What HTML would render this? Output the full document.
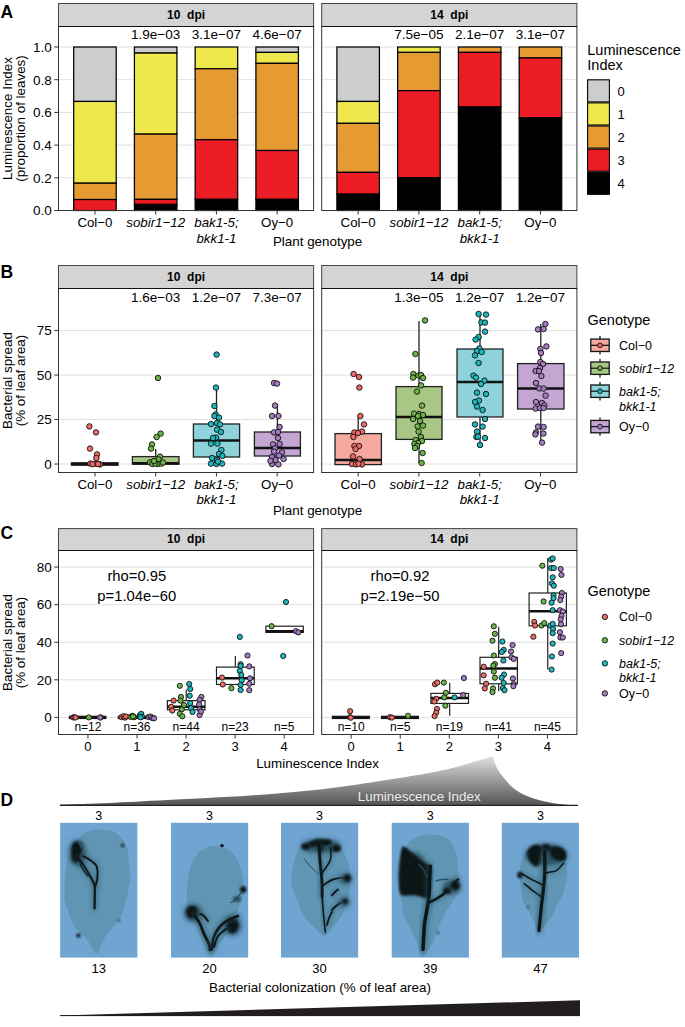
<!DOCTYPE html>
<html><head><meta charset="utf-8"><style>
html,body{margin:0;padding:0;background:#fff;}
svg{display:block;}
svg text{font-family:"Liberation Sans", sans-serif;}
</style></head><body>
<svg width="685" height="1027" viewBox="0 0 685 1027">
<rect width="685" height="1027" fill="#fff"/>
<text x="0.60" y="18.40" font-size="17.5" text-anchor="start" font-weight="bold" font-style="normal" fill="#000" >A</text>
<rect x="58.5" y="26.5" width="255.10000000000002" height="184.0" fill="#fff"/>
<line x1="58.5" y1="177.80" x2="313.6" y2="177.80" stroke="#e1e1e1" stroke-width="1"/>
<line x1="58.5" y1="145.10" x2="313.6" y2="145.10" stroke="#e1e1e1" stroke-width="1"/>
<line x1="58.5" y1="112.40" x2="313.6" y2="112.40" stroke="#e1e1e1" stroke-width="1"/>
<line x1="58.5" y1="79.70" x2="313.6" y2="79.70" stroke="#e1e1e1" stroke-width="1"/>
<line x1="58.5" y1="47.00" x2="313.6" y2="47.00" stroke="#e1e1e1" stroke-width="1"/>
<rect x="73.68" y="47.00" width="42.52" height="54.45" fill="#cdcdcd" stroke="#000" stroke-width="1.25"/>
<rect x="73.68" y="101.45" width="42.52" height="81.75" fill="#efe84d" stroke="#000" stroke-width="1.25"/>
<rect x="73.68" y="183.20" width="42.52" height="16.35" fill="#e69b32" stroke="#000" stroke-width="1.25"/>
<rect x="73.68" y="199.55" width="42.52" height="10.95" fill="#ec1c24" stroke="#000" stroke-width="1.25"/>
<rect x="134.42" y="47.00" width="42.52" height="6.05" fill="#cdcdcd" stroke="#000" stroke-width="1.25"/>
<rect x="134.42" y="53.05" width="42.52" height="81.10" fill="#efe84d" stroke="#000" stroke-width="1.25"/>
<rect x="134.42" y="134.15" width="42.52" height="65.24" fill="#e69b32" stroke="#000" stroke-width="1.25"/>
<rect x="134.42" y="199.38" width="42.52" height="5.07" fill="#ec1c24" stroke="#000" stroke-width="1.25"/>
<rect x="134.42" y="204.45" width="42.52" height="6.05" fill="#000000" stroke="#000" stroke-width="1.25"/>
<text x="155.68" y="38.70" font-size="13.5" text-anchor="middle" font-weight="normal" font-style="normal" fill="#000" >1.9e−03</text>
<rect x="195.16" y="47.00" width="42.52" height="21.75" fill="#efe84d" stroke="#000" stroke-width="1.25"/>
<rect x="195.16" y="68.75" width="42.52" height="70.96" fill="#e69b32" stroke="#000" stroke-width="1.25"/>
<rect x="195.16" y="139.70" width="42.52" height="59.68" fill="#ec1c24" stroke="#000" stroke-width="1.25"/>
<rect x="195.16" y="199.38" width="42.52" height="11.12" fill="#000000" stroke="#000" stroke-width="1.25"/>
<text x="216.42" y="38.70" font-size="13.5" text-anchor="middle" font-weight="normal" font-style="normal" fill="#000" >3.1e−07</text>
<rect x="255.90" y="47.00" width="42.52" height="5.40" fill="#cdcdcd" stroke="#000" stroke-width="1.25"/>
<rect x="255.90" y="52.40" width="42.52" height="10.95" fill="#efe84d" stroke="#000" stroke-width="1.25"/>
<rect x="255.90" y="63.35" width="42.52" height="87.15" fill="#e69b32" stroke="#000" stroke-width="1.25"/>
<rect x="255.90" y="150.50" width="42.52" height="48.89" fill="#ec1c24" stroke="#000" stroke-width="1.25"/>
<rect x="255.90" y="199.38" width="42.52" height="11.12" fill="#000000" stroke="#000" stroke-width="1.25"/>
<text x="277.16" y="38.70" font-size="13.5" text-anchor="middle" font-weight="normal" font-style="normal" fill="#000" >4.6e−07</text>
<rect x="58.5" y="26.5" width="255.10" height="184.00" fill="none" stroke="#333333" stroke-width="1"/>
<rect x="58.5" y="3.5" width="255.10" height="23.00" fill="#d4d4d4" stroke="#444" stroke-width="1"/>
<line x1="58.5" y1="26.50" x2="313.6" y2="26.50" stroke="#111" stroke-width="1.15"/>
<text x="186.05" y="18.90" font-size="12" text-anchor="middle" font-weight="bold" font-style="normal" fill="#000" xml:space="preserve">10  dpi</text>
<line x1="94.94" y1="210.5" x2="94.94" y2="214.5" stroke="#333333" stroke-width="1"/>
<line x1="155.68" y1="210.5" x2="155.68" y2="214.5" stroke="#333333" stroke-width="1"/>
<line x1="216.42" y1="210.5" x2="216.42" y2="214.5" stroke="#333333" stroke-width="1"/>
<line x1="277.16" y1="210.5" x2="277.16" y2="214.5" stroke="#333333" stroke-width="1"/>
<text x="94.94" y="227.00" font-size="13.3" text-anchor="middle" font-weight="normal" font-style="normal" fill="#000" >Col−0</text>
<text x="155.68" y="227.00" font-size="13.3" text-anchor="middle" font-weight="normal" font-style="italic" fill="#000" >sobir1−12</text>
<text x="216.42" y="227.00" font-size="13.3" text-anchor="middle" font-weight="normal" font-style="italic" fill="#000" >bak1-5;</text>
<text x="216.42" y="242.50" font-size="13.3" text-anchor="middle" font-weight="normal" font-style="italic" fill="#000" >bkk1-1</text>
<text x="277.16" y="227.00" font-size="13.3" text-anchor="middle" font-weight="normal" font-style="normal" fill="#000" >Oy−0</text>
<rect x="321.7" y="26.5" width="255.2" height="184.0" fill="#fff"/>
<line x1="321.7" y1="177.80" x2="576.9" y2="177.80" stroke="#e1e1e1" stroke-width="1"/>
<line x1="321.7" y1="145.10" x2="576.9" y2="145.10" stroke="#e1e1e1" stroke-width="1"/>
<line x1="321.7" y1="112.40" x2="576.9" y2="112.40" stroke="#e1e1e1" stroke-width="1"/>
<line x1="321.7" y1="79.70" x2="576.9" y2="79.70" stroke="#e1e1e1" stroke-width="1"/>
<line x1="321.7" y1="47.00" x2="576.9" y2="47.00" stroke="#e1e1e1" stroke-width="1"/>
<rect x="336.89" y="47.00" width="42.53" height="54.45" fill="#cdcdcd" stroke="#000" stroke-width="1.25"/>
<rect x="336.89" y="101.45" width="42.53" height="21.91" fill="#efe84d" stroke="#000" stroke-width="1.25"/>
<rect x="336.89" y="123.35" width="42.53" height="49.05" fill="#e69b32" stroke="#000" stroke-width="1.25"/>
<rect x="336.89" y="172.40" width="42.53" height="21.75" fill="#ec1c24" stroke="#000" stroke-width="1.25"/>
<rect x="336.89" y="194.15" width="42.53" height="16.35" fill="#000000" stroke="#000" stroke-width="1.25"/>
<rect x="397.65" y="47.00" width="42.53" height="5.40" fill="#efe84d" stroke="#000" stroke-width="1.25"/>
<rect x="397.65" y="52.40" width="42.53" height="38.26" fill="#e69b32" stroke="#000" stroke-width="1.25"/>
<rect x="397.65" y="90.65" width="42.53" height="87.15" fill="#ec1c24" stroke="#000" stroke-width="1.25"/>
<rect x="397.65" y="177.80" width="42.53" height="32.70" fill="#000000" stroke="#000" stroke-width="1.25"/>
<text x="418.92" y="38.70" font-size="13.5" text-anchor="middle" font-weight="normal" font-style="normal" fill="#000" >7.5e−05</text>
<rect x="458.41" y="47.00" width="42.53" height="5.40" fill="#e69b32" stroke="#000" stroke-width="1.25"/>
<rect x="458.41" y="52.40" width="42.53" height="54.61" fill="#ec1c24" stroke="#000" stroke-width="1.25"/>
<rect x="458.41" y="107.00" width="42.53" height="103.50" fill="#000000" stroke="#000" stroke-width="1.25"/>
<text x="479.68" y="38.70" font-size="13.5" text-anchor="middle" font-weight="normal" font-style="normal" fill="#000" >2.1e−07</text>
<rect x="519.18" y="47.00" width="42.53" height="10.95" fill="#e69b32" stroke="#000" stroke-width="1.25"/>
<rect x="519.18" y="57.95" width="42.53" height="59.84" fill="#ec1c24" stroke="#000" stroke-width="1.25"/>
<rect x="519.18" y="117.80" width="42.53" height="92.70" fill="#000000" stroke="#000" stroke-width="1.25"/>
<text x="540.44" y="38.70" font-size="13.5" text-anchor="middle" font-weight="normal" font-style="normal" fill="#000" >3.1e−07</text>
<rect x="321.7" y="26.5" width="255.20" height="184.00" fill="none" stroke="#333333" stroke-width="1"/>
<rect x="321.7" y="3.5" width="255.20" height="23.00" fill="#d4d4d4" stroke="#444" stroke-width="1"/>
<line x1="321.7" y1="26.50" x2="576.9" y2="26.50" stroke="#111" stroke-width="1.15"/>
<text x="449.30" y="18.90" font-size="12" text-anchor="middle" font-weight="bold" font-style="normal" fill="#000" xml:space="preserve">14  dpi</text>
<line x1="358.16" y1="210.5" x2="358.16" y2="214.5" stroke="#333333" stroke-width="1"/>
<line x1="418.92" y1="210.5" x2="418.92" y2="214.5" stroke="#333333" stroke-width="1"/>
<line x1="479.68" y1="210.5" x2="479.68" y2="214.5" stroke="#333333" stroke-width="1"/>
<line x1="540.44" y1="210.5" x2="540.44" y2="214.5" stroke="#333333" stroke-width="1"/>
<text x="358.16" y="227.00" font-size="13.3" text-anchor="middle" font-weight="normal" font-style="normal" fill="#000" >Col−0</text>
<text x="418.92" y="227.00" font-size="13.3" text-anchor="middle" font-weight="normal" font-style="italic" fill="#000" >sobir1−12</text>
<text x="479.68" y="227.00" font-size="13.3" text-anchor="middle" font-weight="normal" font-style="italic" fill="#000" >bak1-5;</text>
<text x="479.68" y="242.50" font-size="13.3" text-anchor="middle" font-weight="normal" font-style="italic" fill="#000" >bkk1-1</text>
<text x="540.44" y="227.00" font-size="13.3" text-anchor="middle" font-weight="normal" font-style="normal" fill="#000" >Oy−0</text>
<line x1="54.30" y1="210.50" x2="58.5" y2="210.50" stroke="#333333" stroke-width="1"/>
<text x="51.70" y="215.30" font-size="13.5" text-anchor="end" font-weight="normal" font-style="normal" fill="#000" >0.0</text>
<line x1="54.30" y1="177.80" x2="58.5" y2="177.80" stroke="#333333" stroke-width="1"/>
<text x="51.70" y="182.60" font-size="13.5" text-anchor="end" font-weight="normal" font-style="normal" fill="#000" >0.2</text>
<line x1="54.30" y1="145.10" x2="58.5" y2="145.10" stroke="#333333" stroke-width="1"/>
<text x="51.70" y="149.90" font-size="13.5" text-anchor="end" font-weight="normal" font-style="normal" fill="#000" >0.4</text>
<line x1="54.30" y1="112.40" x2="58.5" y2="112.40" stroke="#333333" stroke-width="1"/>
<text x="51.70" y="117.20" font-size="13.5" text-anchor="end" font-weight="normal" font-style="normal" fill="#000" >0.6</text>
<line x1="54.30" y1="79.70" x2="58.5" y2="79.70" stroke="#333333" stroke-width="1"/>
<text x="51.70" y="84.50" font-size="13.5" text-anchor="end" font-weight="normal" font-style="normal" fill="#000" >0.8</text>
<line x1="54.30" y1="47.00" x2="58.5" y2="47.00" stroke="#333333" stroke-width="1"/>
<text x="51.70" y="51.80" font-size="13.5" text-anchor="end" font-weight="normal" font-style="normal" fill="#000" >1.0</text>
<text transform="translate(12.3,118.5) rotate(-90)" font-size="13.4" text-anchor="middle">Luminescence Index</text>
<text transform="translate(24.8,118.5) rotate(-90)" font-size="13.4" text-anchor="middle">(proportion of leaves)</text>
<text x="317.60" y="246.20" font-size="13.4" text-anchor="middle" font-weight="normal" font-style="normal" fill="#000" >Plant genotype</text>
<text x="587.30" y="54.50" font-size="14.5" text-anchor="start" font-weight="normal" font-style="normal" fill="#000" >Luminescence</text>
<text x="587.30" y="69.80" font-size="14.5" text-anchor="start" font-weight="normal" font-style="normal" fill="#000" >Index</text>
<rect x="587.6" y="79.80" width="21.8" height="22.1" fill="#cdcdcd" stroke="#000" stroke-width="1.1"/>
<text x="617.50" y="95.50" font-size="13" text-anchor="start" font-weight="normal" font-style="normal" fill="#000" >0</text>
<rect x="587.6" y="102.90" width="21.8" height="22.1" fill="#efe84d" stroke="#000" stroke-width="1.1"/>
<text x="617.50" y="118.60" font-size="13" text-anchor="start" font-weight="normal" font-style="normal" fill="#000" >1</text>
<rect x="587.6" y="126.00" width="21.8" height="22.1" fill="#e69b32" stroke="#000" stroke-width="1.1"/>
<text x="617.50" y="141.70" font-size="13" text-anchor="start" font-weight="normal" font-style="normal" fill="#000" >2</text>
<rect x="587.6" y="149.10" width="21.8" height="22.1" fill="#ec1c24" stroke="#000" stroke-width="1.1"/>
<text x="617.50" y="164.80" font-size="13" text-anchor="start" font-weight="normal" font-style="normal" fill="#000" >3</text>
<rect x="587.6" y="172.20" width="21.8" height="22.1" fill="#000000" stroke="#000" stroke-width="1.1"/>
<text x="617.50" y="187.90" font-size="13" text-anchor="start" font-weight="normal" font-style="normal" fill="#000" >4</text>
<text x="0.60" y="278.00" font-size="17.5" text-anchor="start" font-weight="bold" font-style="normal" fill="#000" >B</text>
<rect x="58.5" y="288.5" width="255.10000000000002" height="184.0" fill="#fff"/>
<line x1="58.5" y1="464.00" x2="313.6" y2="464.00" stroke="#e1e1e1" stroke-width="1"/>
<line x1="58.5" y1="419.53" x2="313.6" y2="419.53" stroke="#e1e1e1" stroke-width="1"/>
<line x1="58.5" y1="375.06" x2="313.6" y2="375.06" stroke="#e1e1e1" stroke-width="1"/>
<line x1="58.5" y1="330.60" x2="313.6" y2="330.60" stroke="#e1e1e1" stroke-width="1"/>
<rect x="71.40" y="462.80" width="46.60" height="2.40" fill="#f5a99f" stroke="#222" stroke-width="1.3"/>
<line x1="71.40" y1="464.00" x2="118.00" y2="464.00" stroke="#111" stroke-width="2.5"/>
<circle cx="89.40" cy="426.40" r="2.75" fill="#ee6b65" stroke="#111" stroke-width="0.9"/>
<circle cx="96.00" cy="432.40" r="2.75" fill="#ee6b65" stroke="#111" stroke-width="0.9"/>
<circle cx="90.00" cy="448.60" r="2.75" fill="#ee6b65" stroke="#111" stroke-width="0.9"/>
<circle cx="97.00" cy="454.40" r="2.75" fill="#ee6b65" stroke="#111" stroke-width="0.9"/>
<circle cx="96.40" cy="458.00" r="2.75" fill="#ee6b65" stroke="#111" stroke-width="0.9"/>
<circle cx="90.40" cy="463.60" r="2.75" fill="#ee6b65" stroke="#111" stroke-width="0.9"/>
<circle cx="95.00" cy="463.60" r="2.75" fill="#ee6b65" stroke="#111" stroke-width="0.9"/>
<circle cx="100.00" cy="464.40" r="2.75" fill="#ee6b65" stroke="#111" stroke-width="0.9"/>
<circle cx="92.50" cy="464.20" r="2.75" fill="#ee6b65" stroke="#111" stroke-width="0.9"/>
<circle cx="98.00" cy="464.00" r="2.75" fill="#ee6b65" stroke="#111" stroke-width="0.9"/>
<line x1="155.70" y1="449.00" x2="155.70" y2="456.60" stroke="#222" stroke-width="1.3"/>
<rect x="132.40" y="456.60" width="46.60" height="7.60" fill="#a9c784" stroke="#222" stroke-width="1.3"/>
<line x1="132.40" y1="463.20" x2="179.00" y2="463.20" stroke="#111" stroke-width="2.5"/>
<circle cx="158.00" cy="378.00" r="2.75" fill="#6cb445" stroke="#111" stroke-width="0.9"/>
<circle cx="160.60" cy="433.60" r="2.75" fill="#6cb445" stroke="#111" stroke-width="0.9"/>
<circle cx="156.60" cy="437.00" r="2.75" fill="#6cb445" stroke="#111" stroke-width="0.9"/>
<circle cx="152.00" cy="444.40" r="2.75" fill="#6cb445" stroke="#111" stroke-width="0.9"/>
<circle cx="151.00" cy="448.60" r="2.75" fill="#6cb445" stroke="#111" stroke-width="0.9"/>
<circle cx="160.00" cy="456.60" r="2.75" fill="#6cb445" stroke="#111" stroke-width="0.9"/>
<circle cx="158.50" cy="459.50" r="2.75" fill="#6cb445" stroke="#111" stroke-width="0.9"/>
<circle cx="150.00" cy="462.40" r="2.75" fill="#6cb445" stroke="#111" stroke-width="0.9"/>
<circle cx="152.40" cy="464.00" r="2.75" fill="#6cb445" stroke="#111" stroke-width="0.9"/>
<circle cx="158.00" cy="464.00" r="2.75" fill="#6cb445" stroke="#111" stroke-width="0.9"/>
<circle cx="161.60" cy="463.60" r="2.75" fill="#6cb445" stroke="#111" stroke-width="0.9"/>
<circle cx="155.00" cy="463.50" r="2.75" fill="#6cb445" stroke="#111" stroke-width="0.9"/>
<circle cx="163.00" cy="462.50" r="2.75" fill="#6cb445" stroke="#111" stroke-width="0.9"/>
<circle cx="154.00" cy="461.00" r="2.75" fill="#6cb445" stroke="#111" stroke-width="0.9"/>
<text x="155.68" y="301.50" font-size="13.5" text-anchor="middle" font-weight="normal" font-style="normal" fill="#000" >1.6e−03</text>
<line x1="216.50" y1="388.00" x2="216.50" y2="424.00" stroke="#222" stroke-width="1.3"/>
<rect x="193.40" y="424.00" width="46.20" height="33.00" fill="#8dd3d9" stroke="#222" stroke-width="1.3"/>
<line x1="193.40" y1="440.60" x2="239.60" y2="440.60" stroke="#111" stroke-width="2.5"/>
<circle cx="216.60" cy="354.60" r="2.75" fill="#1cb8bf" stroke="#111" stroke-width="0.9"/>
<circle cx="216.00" cy="387.60" r="2.75" fill="#1cb8bf" stroke="#111" stroke-width="0.9"/>
<circle cx="214.40" cy="406.00" r="2.75" fill="#1cb8bf" stroke="#111" stroke-width="0.9"/>
<circle cx="215.60" cy="414.40" r="2.75" fill="#1cb8bf" stroke="#111" stroke-width="0.9"/>
<circle cx="214.40" cy="416.00" r="2.75" fill="#1cb8bf" stroke="#111" stroke-width="0.9"/>
<circle cx="219.00" cy="417.60" r="2.75" fill="#1cb8bf" stroke="#111" stroke-width="0.9"/>
<circle cx="211.00" cy="424.00" r="2.75" fill="#1cb8bf" stroke="#111" stroke-width="0.9"/>
<circle cx="217.00" cy="423.00" r="2.75" fill="#1cb8bf" stroke="#111" stroke-width="0.9"/>
<circle cx="220.00" cy="424.40" r="2.75" fill="#1cb8bf" stroke="#111" stroke-width="0.9"/>
<circle cx="217.00" cy="429.60" r="2.75" fill="#1cb8bf" stroke="#111" stroke-width="0.9"/>
<circle cx="221.00" cy="432.00" r="2.75" fill="#1cb8bf" stroke="#111" stroke-width="0.9"/>
<circle cx="216.00" cy="437.60" r="2.75" fill="#1cb8bf" stroke="#111" stroke-width="0.9"/>
<circle cx="213.00" cy="438.00" r="2.75" fill="#1cb8bf" stroke="#111" stroke-width="0.9"/>
<circle cx="211.00" cy="443.60" r="2.75" fill="#1cb8bf" stroke="#111" stroke-width="0.9"/>
<circle cx="217.40" cy="443.60" r="2.75" fill="#1cb8bf" stroke="#111" stroke-width="0.9"/>
<circle cx="221.40" cy="450.00" r="2.75" fill="#1cb8bf" stroke="#111" stroke-width="0.9"/>
<circle cx="219.00" cy="454.00" r="2.75" fill="#1cb8bf" stroke="#111" stroke-width="0.9"/>
<circle cx="212.00" cy="458.00" r="2.75" fill="#1cb8bf" stroke="#111" stroke-width="0.9"/>
<circle cx="222.40" cy="456.00" r="2.75" fill="#1cb8bf" stroke="#111" stroke-width="0.9"/>
<circle cx="217.00" cy="460.00" r="2.75" fill="#1cb8bf" stroke="#111" stroke-width="0.9"/>
<circle cx="211.00" cy="463.60" r="2.75" fill="#1cb8bf" stroke="#111" stroke-width="0.9"/>
<circle cx="216.40" cy="464.00" r="2.75" fill="#1cb8bf" stroke="#111" stroke-width="0.9"/>
<circle cx="222.00" cy="463.60" r="2.75" fill="#1cb8bf" stroke="#111" stroke-width="0.9"/>
<circle cx="218.00" cy="461.60" r="2.75" fill="#1cb8bf" stroke="#111" stroke-width="0.9"/>
<text x="216.42" y="301.50" font-size="13.5" text-anchor="middle" font-weight="normal" font-style="normal" fill="#000" >1.2e−07</text>
<line x1="277.40" y1="405.60" x2="277.40" y2="432.00" stroke="#222" stroke-width="1.3"/>
<rect x="254.40" y="432.00" width="46.00" height="24.00" fill="#c3a6d2" stroke="#222" stroke-width="1.3"/>
<line x1="254.40" y1="448.00" x2="300.40" y2="448.00" stroke="#111" stroke-width="2.5"/>
<circle cx="274.00" cy="383.00" r="2.75" fill="#a57bc4" stroke="#111" stroke-width="0.9"/>
<circle cx="277.00" cy="383.60" r="2.75" fill="#a57bc4" stroke="#111" stroke-width="0.9"/>
<circle cx="275.00" cy="405.60" r="2.75" fill="#a57bc4" stroke="#111" stroke-width="0.9"/>
<circle cx="272.00" cy="416.00" r="2.75" fill="#a57bc4" stroke="#111" stroke-width="0.9"/>
<circle cx="278.40" cy="416.00" r="2.75" fill="#a57bc4" stroke="#111" stroke-width="0.9"/>
<circle cx="279.60" cy="427.00" r="2.75" fill="#a57bc4" stroke="#111" stroke-width="0.9"/>
<circle cx="274.00" cy="432.40" r="2.75" fill="#a57bc4" stroke="#111" stroke-width="0.9"/>
<circle cx="278.00" cy="432.00" r="2.75" fill="#a57bc4" stroke="#111" stroke-width="0.9"/>
<circle cx="278.00" cy="438.00" r="2.75" fill="#a57bc4" stroke="#111" stroke-width="0.9"/>
<circle cx="273.00" cy="444.40" r="2.75" fill="#a57bc4" stroke="#111" stroke-width="0.9"/>
<circle cx="279.60" cy="444.00" r="2.75" fill="#a57bc4" stroke="#111" stroke-width="0.9"/>
<circle cx="275.00" cy="448.40" r="2.75" fill="#a57bc4" stroke="#111" stroke-width="0.9"/>
<circle cx="282.00" cy="452.40" r="2.75" fill="#a57bc4" stroke="#111" stroke-width="0.9"/>
<circle cx="274.00" cy="451.60" r="2.75" fill="#a57bc4" stroke="#111" stroke-width="0.9"/>
<circle cx="279.00" cy="455.60" r="2.75" fill="#a57bc4" stroke="#111" stroke-width="0.9"/>
<circle cx="272.00" cy="457.00" r="2.75" fill="#a57bc4" stroke="#111" stroke-width="0.9"/>
<circle cx="283.60" cy="459.00" r="2.75" fill="#a57bc4" stroke="#111" stroke-width="0.9"/>
<circle cx="275.60" cy="460.00" r="2.75" fill="#a57bc4" stroke="#111" stroke-width="0.9"/>
<circle cx="272.00" cy="464.00" r="2.75" fill="#a57bc4" stroke="#111" stroke-width="0.9"/>
<circle cx="278.40" cy="464.40" r="2.75" fill="#a57bc4" stroke="#111" stroke-width="0.9"/>
<circle cx="270.50" cy="461.00" r="2.75" fill="#a57bc4" stroke="#111" stroke-width="0.9"/>
<text x="277.16" y="301.50" font-size="13.5" text-anchor="middle" font-weight="normal" font-style="normal" fill="#000" >7.3e−07</text>
<rect x="58.5" y="288.5" width="255.10" height="184.00" fill="none" stroke="#333333" stroke-width="1"/>
<rect x="58.5" y="265.5" width="255.10" height="23.00" fill="#d4d4d4" stroke="#444" stroke-width="1"/>
<line x1="58.5" y1="288.50" x2="313.6" y2="288.50" stroke="#111" stroke-width="1.15"/>
<text x="186.05" y="280.90" font-size="12" text-anchor="middle" font-weight="bold" font-style="normal" fill="#000" xml:space="preserve">10  dpi</text>
<line x1="94.94" y1="472.5" x2="94.94" y2="476.5" stroke="#333333" stroke-width="1"/>
<line x1="155.68" y1="472.5" x2="155.68" y2="476.5" stroke="#333333" stroke-width="1"/>
<line x1="216.42" y1="472.5" x2="216.42" y2="476.5" stroke="#333333" stroke-width="1"/>
<line x1="277.16" y1="472.5" x2="277.16" y2="476.5" stroke="#333333" stroke-width="1"/>
<text x="94.94" y="488.50" font-size="13.3" text-anchor="middle" font-weight="normal" font-style="normal" fill="#000" >Col−0</text>
<text x="155.68" y="488.50" font-size="13.3" text-anchor="middle" font-weight="normal" font-style="italic" fill="#000" >sobir1−12</text>
<text x="216.42" y="488.50" font-size="13.3" text-anchor="middle" font-weight="normal" font-style="italic" fill="#000" >bak1-5;</text>
<text x="216.42" y="504.00" font-size="13.3" text-anchor="middle" font-weight="normal" font-style="italic" fill="#000" >bkk1-1</text>
<text x="277.16" y="488.50" font-size="13.3" text-anchor="middle" font-weight="normal" font-style="normal" fill="#000" >Oy−0</text>
<rect x="321.7" y="288.5" width="255.2" height="184.0" fill="#fff"/>
<line x1="321.7" y1="464.00" x2="576.9" y2="464.00" stroke="#e1e1e1" stroke-width="1"/>
<line x1="321.7" y1="419.53" x2="576.9" y2="419.53" stroke="#e1e1e1" stroke-width="1"/>
<line x1="321.7" y1="375.06" x2="576.9" y2="375.06" stroke="#e1e1e1" stroke-width="1"/>
<line x1="321.7" y1="330.60" x2="576.9" y2="330.60" stroke="#e1e1e1" stroke-width="1"/>
<line x1="358.20" y1="416.00" x2="358.20" y2="433.60" stroke="#222" stroke-width="1.3"/>
<rect x="335.00" y="433.60" width="46.40" height="31.00" fill="#f5a99f" stroke="#222" stroke-width="1.3"/>
<line x1="335.00" y1="460.00" x2="381.40" y2="460.00" stroke="#111" stroke-width="2.5"/>
<circle cx="353.60" cy="374.00" r="2.75" fill="#ee6b65" stroke="#111" stroke-width="0.9"/>
<circle cx="359.00" cy="377.00" r="2.75" fill="#ee6b65" stroke="#111" stroke-width="0.9"/>
<circle cx="359.40" cy="387.60" r="2.75" fill="#ee6b65" stroke="#111" stroke-width="0.9"/>
<circle cx="360.40" cy="416.00" r="2.75" fill="#ee6b65" stroke="#111" stroke-width="0.9"/>
<circle cx="364.00" cy="424.40" r="2.75" fill="#ee6b65" stroke="#111" stroke-width="0.9"/>
<circle cx="354.40" cy="432.40" r="2.75" fill="#ee6b65" stroke="#111" stroke-width="0.9"/>
<circle cx="362.00" cy="431.60" r="2.75" fill="#ee6b65" stroke="#111" stroke-width="0.9"/>
<circle cx="358.00" cy="433.00" r="2.75" fill="#ee6b65" stroke="#111" stroke-width="0.9"/>
<circle cx="353.40" cy="437.00" r="2.75" fill="#ee6b65" stroke="#111" stroke-width="0.9"/>
<circle cx="354.40" cy="446.00" r="2.75" fill="#ee6b65" stroke="#111" stroke-width="0.9"/>
<circle cx="359.00" cy="446.00" r="2.75" fill="#ee6b65" stroke="#111" stroke-width="0.9"/>
<circle cx="355.60" cy="449.00" r="2.75" fill="#ee6b65" stroke="#111" stroke-width="0.9"/>
<circle cx="353.00" cy="456.40" r="2.75" fill="#ee6b65" stroke="#111" stroke-width="0.9"/>
<circle cx="359.60" cy="459.00" r="2.75" fill="#ee6b65" stroke="#111" stroke-width="0.9"/>
<circle cx="352.00" cy="464.00" r="2.75" fill="#ee6b65" stroke="#111" stroke-width="0.9"/>
<circle cx="356.00" cy="464.40" r="2.75" fill="#ee6b65" stroke="#111" stroke-width="0.9"/>
<circle cx="362.00" cy="464.40" r="2.75" fill="#ee6b65" stroke="#111" stroke-width="0.9"/>
<circle cx="358.50" cy="463.80" r="2.75" fill="#ee6b65" stroke="#111" stroke-width="0.9"/>
<line x1="419.00" y1="321.00" x2="419.00" y2="386.60" stroke="#222" stroke-width="1.3"/>
<line x1="419.00" y1="439.40" x2="419.00" y2="463.00" stroke="#222" stroke-width="1.3"/>
<rect x="396.00" y="386.60" width="46.00" height="52.80" fill="#a9c784" stroke="#222" stroke-width="1.3"/>
<line x1="396.00" y1="417.00" x2="442.00" y2="417.00" stroke="#111" stroke-width="2.5"/>
<circle cx="425.00" cy="320.40" r="2.75" fill="#6cb445" stroke="#111" stroke-width="0.9"/>
<circle cx="415.40" cy="354.00" r="2.75" fill="#6cb445" stroke="#111" stroke-width="0.9"/>
<circle cx="413.40" cy="374.00" r="2.75" fill="#6cb445" stroke="#111" stroke-width="0.9"/>
<circle cx="418.40" cy="375.60" r="2.75" fill="#6cb445" stroke="#111" stroke-width="0.9"/>
<circle cx="421.00" cy="375.00" r="2.75" fill="#6cb445" stroke="#111" stroke-width="0.9"/>
<circle cx="413.00" cy="377.60" r="2.75" fill="#6cb445" stroke="#111" stroke-width="0.9"/>
<circle cx="423.00" cy="378.00" r="2.75" fill="#6cb445" stroke="#111" stroke-width="0.9"/>
<circle cx="421.00" cy="385.40" r="2.75" fill="#6cb445" stroke="#111" stroke-width="0.9"/>
<circle cx="417.00" cy="391.60" r="2.75" fill="#6cb445" stroke="#111" stroke-width="0.9"/>
<circle cx="422.00" cy="405.60" r="2.75" fill="#6cb445" stroke="#111" stroke-width="0.9"/>
<circle cx="414.00" cy="413.60" r="2.75" fill="#6cb445" stroke="#111" stroke-width="0.9"/>
<circle cx="419.00" cy="414.00" r="2.75" fill="#6cb445" stroke="#111" stroke-width="0.9"/>
<circle cx="423.00" cy="415.00" r="2.75" fill="#6cb445" stroke="#111" stroke-width="0.9"/>
<circle cx="418.00" cy="416.00" r="2.75" fill="#6cb445" stroke="#111" stroke-width="0.9"/>
<circle cx="413.00" cy="419.00" r="2.75" fill="#6cb445" stroke="#111" stroke-width="0.9"/>
<circle cx="420.00" cy="421.00" r="2.75" fill="#6cb445" stroke="#111" stroke-width="0.9"/>
<circle cx="423.00" cy="425.60" r="2.75" fill="#6cb445" stroke="#111" stroke-width="0.9"/>
<circle cx="417.60" cy="426.40" r="2.75" fill="#6cb445" stroke="#111" stroke-width="0.9"/>
<circle cx="418.60" cy="431.60" r="2.75" fill="#6cb445" stroke="#111" stroke-width="0.9"/>
<circle cx="421.00" cy="437.00" r="2.75" fill="#6cb445" stroke="#111" stroke-width="0.9"/>
<circle cx="415.60" cy="440.00" r="2.75" fill="#6cb445" stroke="#111" stroke-width="0.9"/>
<circle cx="422.00" cy="441.00" r="2.75" fill="#6cb445" stroke="#111" stroke-width="0.9"/>
<circle cx="418.00" cy="443.00" r="2.75" fill="#6cb445" stroke="#111" stroke-width="0.9"/>
<circle cx="414.40" cy="444.00" r="2.75" fill="#6cb445" stroke="#111" stroke-width="0.9"/>
<circle cx="417.00" cy="446.00" r="2.75" fill="#6cb445" stroke="#111" stroke-width="0.9"/>
<circle cx="415.00" cy="448.00" r="2.75" fill="#6cb445" stroke="#111" stroke-width="0.9"/>
<circle cx="422.60" cy="453.00" r="2.75" fill="#6cb445" stroke="#111" stroke-width="0.9"/>
<circle cx="421.60" cy="463.00" r="2.75" fill="#6cb445" stroke="#111" stroke-width="0.9"/>
<text x="418.92" y="301.50" font-size="13.5" text-anchor="middle" font-weight="normal" font-style="normal" fill="#000" >1.3e−05</text>
<line x1="480.00" y1="314.00" x2="480.00" y2="349.00" stroke="#222" stroke-width="1.3"/>
<line x1="480.00" y1="417.00" x2="480.00" y2="445.00" stroke="#222" stroke-width="1.3"/>
<rect x="457.00" y="349.00" width="46.00" height="68.00" fill="#8dd3d9" stroke="#222" stroke-width="1.3"/>
<line x1="457.00" y1="382.00" x2="503.00" y2="382.00" stroke="#111" stroke-width="2.5"/>
<circle cx="478.60" cy="314.00" r="2.75" fill="#1cb8bf" stroke="#111" stroke-width="0.9"/>
<circle cx="486.00" cy="314.60" r="2.75" fill="#1cb8bf" stroke="#111" stroke-width="0.9"/>
<circle cx="481.40" cy="322.40" r="2.75" fill="#1cb8bf" stroke="#111" stroke-width="0.9"/>
<circle cx="485.00" cy="322.60" r="2.75" fill="#1cb8bf" stroke="#111" stroke-width="0.9"/>
<circle cx="485.00" cy="331.60" r="2.75" fill="#1cb8bf" stroke="#111" stroke-width="0.9"/>
<circle cx="478.60" cy="337.00" r="2.75" fill="#1cb8bf" stroke="#111" stroke-width="0.9"/>
<circle cx="475.60" cy="339.60" r="2.75" fill="#1cb8bf" stroke="#111" stroke-width="0.9"/>
<circle cx="479.40" cy="348.40" r="2.75" fill="#1cb8bf" stroke="#111" stroke-width="0.9"/>
<circle cx="477.00" cy="351.00" r="2.75" fill="#1cb8bf" stroke="#111" stroke-width="0.9"/>
<circle cx="481.60" cy="352.00" r="2.75" fill="#1cb8bf" stroke="#111" stroke-width="0.9"/>
<circle cx="475.00" cy="355.40" r="2.75" fill="#1cb8bf" stroke="#111" stroke-width="0.9"/>
<circle cx="478.60" cy="363.00" r="2.75" fill="#1cb8bf" stroke="#111" stroke-width="0.9"/>
<circle cx="473.40" cy="375.60" r="2.75" fill="#1cb8bf" stroke="#111" stroke-width="0.9"/>
<circle cx="476.00" cy="377.60" r="2.75" fill="#1cb8bf" stroke="#111" stroke-width="0.9"/>
<circle cx="484.40" cy="380.60" r="2.75" fill="#1cb8bf" stroke="#111" stroke-width="0.9"/>
<circle cx="481.00" cy="384.00" r="2.75" fill="#1cb8bf" stroke="#111" stroke-width="0.9"/>
<circle cx="477.00" cy="392.60" r="2.75" fill="#1cb8bf" stroke="#111" stroke-width="0.9"/>
<circle cx="486.00" cy="394.00" r="2.75" fill="#1cb8bf" stroke="#111" stroke-width="0.9"/>
<circle cx="479.00" cy="400.60" r="2.75" fill="#1cb8bf" stroke="#111" stroke-width="0.9"/>
<circle cx="475.00" cy="402.00" r="2.75" fill="#1cb8bf" stroke="#111" stroke-width="0.9"/>
<circle cx="477.00" cy="406.60" r="2.75" fill="#1cb8bf" stroke="#111" stroke-width="0.9"/>
<circle cx="482.60" cy="410.00" r="2.75" fill="#1cb8bf" stroke="#111" stroke-width="0.9"/>
<circle cx="485.00" cy="419.00" r="2.75" fill="#1cb8bf" stroke="#111" stroke-width="0.9"/>
<circle cx="475.00" cy="424.40" r="2.75" fill="#1cb8bf" stroke="#111" stroke-width="0.9"/>
<circle cx="482.60" cy="426.60" r="2.75" fill="#1cb8bf" stroke="#111" stroke-width="0.9"/>
<circle cx="477.00" cy="431.60" r="2.75" fill="#1cb8bf" stroke="#111" stroke-width="0.9"/>
<circle cx="476.40" cy="437.00" r="2.75" fill="#1cb8bf" stroke="#111" stroke-width="0.9"/>
<circle cx="478.00" cy="436.60" r="2.75" fill="#1cb8bf" stroke="#111" stroke-width="0.9"/>
<circle cx="485.00" cy="438.00" r="2.75" fill="#1cb8bf" stroke="#111" stroke-width="0.9"/>
<circle cx="480.00" cy="445.00" r="2.75" fill="#1cb8bf" stroke="#111" stroke-width="0.9"/>
<text x="479.68" y="301.50" font-size="13.5" text-anchor="middle" font-weight="normal" font-style="normal" fill="#000" >1.2e−07</text>
<line x1="540.80" y1="324.00" x2="540.80" y2="363.60" stroke="#222" stroke-width="1.3"/>
<line x1="540.80" y1="409.00" x2="540.80" y2="442.40" stroke="#222" stroke-width="1.3"/>
<rect x="517.60" y="363.60" width="46.40" height="45.40" fill="#c3a6d2" stroke="#222" stroke-width="1.3"/>
<line x1="517.60" y1="388.40" x2="564.00" y2="388.40" stroke="#111" stroke-width="2.5"/>
<circle cx="545.40" cy="324.00" r="2.75" fill="#a57bc4" stroke="#111" stroke-width="0.9"/>
<circle cx="538.00" cy="329.40" r="2.75" fill="#a57bc4" stroke="#111" stroke-width="0.9"/>
<circle cx="543.60" cy="329.00" r="2.75" fill="#a57bc4" stroke="#111" stroke-width="0.9"/>
<circle cx="546.40" cy="346.40" r="2.75" fill="#a57bc4" stroke="#111" stroke-width="0.9"/>
<circle cx="540.40" cy="349.00" r="2.75" fill="#a57bc4" stroke="#111" stroke-width="0.9"/>
<circle cx="541.00" cy="353.00" r="2.75" fill="#a57bc4" stroke="#111" stroke-width="0.9"/>
<circle cx="540.40" cy="362.00" r="2.75" fill="#a57bc4" stroke="#111" stroke-width="0.9"/>
<circle cx="543.00" cy="364.00" r="2.75" fill="#a57bc4" stroke="#111" stroke-width="0.9"/>
<circle cx="540.00" cy="368.00" r="2.75" fill="#a57bc4" stroke="#111" stroke-width="0.9"/>
<circle cx="535.60" cy="371.00" r="2.75" fill="#a57bc4" stroke="#111" stroke-width="0.9"/>
<circle cx="539.00" cy="371.00" r="2.75" fill="#a57bc4" stroke="#111" stroke-width="0.9"/>
<circle cx="541.40" cy="376.00" r="2.75" fill="#a57bc4" stroke="#111" stroke-width="0.9"/>
<circle cx="536.00" cy="383.00" r="2.75" fill="#a57bc4" stroke="#111" stroke-width="0.9"/>
<circle cx="539.40" cy="388.40" r="2.75" fill="#a57bc4" stroke="#111" stroke-width="0.9"/>
<circle cx="543.60" cy="388.60" r="2.75" fill="#a57bc4" stroke="#111" stroke-width="0.9"/>
<circle cx="545.60" cy="395.60" r="2.75" fill="#a57bc4" stroke="#111" stroke-width="0.9"/>
<circle cx="536.00" cy="402.00" r="2.75" fill="#a57bc4" stroke="#111" stroke-width="0.9"/>
<circle cx="542.00" cy="403.00" r="2.75" fill="#a57bc4" stroke="#111" stroke-width="0.9"/>
<circle cx="544.40" cy="405.40" r="2.75" fill="#a57bc4" stroke="#111" stroke-width="0.9"/>
<circle cx="535.60" cy="408.60" r="2.75" fill="#a57bc4" stroke="#111" stroke-width="0.9"/>
<circle cx="540.00" cy="408.00" r="2.75" fill="#a57bc4" stroke="#111" stroke-width="0.9"/>
<circle cx="543.60" cy="408.00" r="2.75" fill="#a57bc4" stroke="#111" stroke-width="0.9"/>
<circle cx="538.00" cy="426.60" r="2.75" fill="#a57bc4" stroke="#111" stroke-width="0.9"/>
<circle cx="543.60" cy="427.00" r="2.75" fill="#a57bc4" stroke="#111" stroke-width="0.9"/>
<circle cx="536.00" cy="432.40" r="2.75" fill="#a57bc4" stroke="#111" stroke-width="0.9"/>
<circle cx="535.40" cy="434.40" r="2.75" fill="#a57bc4" stroke="#111" stroke-width="0.9"/>
<circle cx="543.40" cy="433.60" r="2.75" fill="#a57bc4" stroke="#111" stroke-width="0.9"/>
<circle cx="542.00" cy="442.60" r="2.75" fill="#a57bc4" stroke="#111" stroke-width="0.9"/>
<text x="540.44" y="301.50" font-size="13.5" text-anchor="middle" font-weight="normal" font-style="normal" fill="#000" >1.2e−07</text>
<rect x="321.7" y="288.5" width="255.20" height="184.00" fill="none" stroke="#333333" stroke-width="1"/>
<rect x="321.7" y="265.5" width="255.20" height="23.00" fill="#d4d4d4" stroke="#444" stroke-width="1"/>
<line x1="321.7" y1="288.50" x2="576.9" y2="288.50" stroke="#111" stroke-width="1.15"/>
<text x="449.30" y="280.90" font-size="12" text-anchor="middle" font-weight="bold" font-style="normal" fill="#000" xml:space="preserve">14  dpi</text>
<line x1="358.16" y1="472.5" x2="358.16" y2="476.5" stroke="#333333" stroke-width="1"/>
<line x1="418.92" y1="472.5" x2="418.92" y2="476.5" stroke="#333333" stroke-width="1"/>
<line x1="479.68" y1="472.5" x2="479.68" y2="476.5" stroke="#333333" stroke-width="1"/>
<line x1="540.44" y1="472.5" x2="540.44" y2="476.5" stroke="#333333" stroke-width="1"/>
<text x="358.16" y="488.50" font-size="13.3" text-anchor="middle" font-weight="normal" font-style="normal" fill="#000" >Col−0</text>
<text x="418.92" y="488.50" font-size="13.3" text-anchor="middle" font-weight="normal" font-style="italic" fill="#000" >sobir1−12</text>
<text x="479.68" y="488.50" font-size="13.3" text-anchor="middle" font-weight="normal" font-style="italic" fill="#000" >bak1-5;</text>
<text x="479.68" y="504.00" font-size="13.3" text-anchor="middle" font-weight="normal" font-style="italic" fill="#000" >bkk1-1</text>
<text x="540.44" y="488.50" font-size="13.3" text-anchor="middle" font-weight="normal" font-style="normal" fill="#000" >Oy−0</text>
<line x1="54.30" y1="464.00" x2="58.5" y2="464.00" stroke="#333333" stroke-width="1"/>
<text x="51.70" y="468.80" font-size="13.5" text-anchor="end" font-weight="normal" font-style="normal" fill="#000" >0</text>
<line x1="54.30" y1="419.53" x2="58.5" y2="419.53" stroke="#333333" stroke-width="1"/>
<text x="51.70" y="424.33" font-size="13.5" text-anchor="end" font-weight="normal" font-style="normal" fill="#000" >25</text>
<line x1="54.30" y1="375.06" x2="58.5" y2="375.06" stroke="#333333" stroke-width="1"/>
<text x="51.70" y="379.87" font-size="13.5" text-anchor="end" font-weight="normal" font-style="normal" fill="#000" >50</text>
<line x1="54.30" y1="330.60" x2="58.5" y2="330.60" stroke="#333333" stroke-width="1"/>
<text x="51.70" y="335.40" font-size="13.5" text-anchor="end" font-weight="normal" font-style="normal" fill="#000" >75</text>
<text transform="translate(12.3,380.5) rotate(-90)" font-size="13.4" text-anchor="middle">Bacterial spread</text>
<text transform="translate(24.8,380.5) rotate(-90)" font-size="13.4" text-anchor="middle">(% of leaf area)</text>
<text x="317.60" y="515.00" font-size="13.4" text-anchor="middle" font-weight="normal" font-style="normal" fill="#000" >Plant genotype</text>
<text x="587.50" y="324.70" font-size="14.5" text-anchor="start" font-weight="normal" font-style="normal" fill="#000" >Genotype</text>
<line x1="600.0" y1="336.10" x2="600.0" y2="354.50" stroke="#1a1a1a" stroke-width="1.3"/>
<rect x="590.80" y="339.10" width="18.4" height="12.4" fill="#f5a99f" stroke="#1a1a1a" stroke-width="1.35"/>
<line x1="590.80" y1="345.30" x2="609.20" y2="345.30" stroke="#1a1a1a" stroke-width="1.3"/>
<circle cx="600.00" cy="345.30" r="2.4" fill="#ee6b65" stroke="#111" stroke-width="0.9"/>
<text x="619.00" y="349.70" font-size="12.5" text-anchor="start" font-weight="normal" font-style="normal" fill="#000" >Col−0</text>
<line x1="600.0" y1="359.00" x2="600.0" y2="377.40" stroke="#1a1a1a" stroke-width="1.3"/>
<rect x="590.80" y="362.00" width="18.4" height="12.4" fill="#a9c784" stroke="#1a1a1a" stroke-width="1.35"/>
<line x1="590.80" y1="368.20" x2="609.20" y2="368.20" stroke="#1a1a1a" stroke-width="1.3"/>
<circle cx="600.00" cy="368.20" r="2.4" fill="#6cb445" stroke="#111" stroke-width="0.9"/>
<text x="619.00" y="372.60" font-size="12.5" text-anchor="start" font-weight="normal" font-style="italic" fill="#000" >sobir1−12</text>
<line x1="600.0" y1="382.00" x2="600.0" y2="400.40" stroke="#1a1a1a" stroke-width="1.3"/>
<rect x="590.80" y="385.00" width="18.4" height="12.4" fill="#8dd3d9" stroke="#1a1a1a" stroke-width="1.35"/>
<line x1="590.80" y1="391.20" x2="609.20" y2="391.20" stroke="#1a1a1a" stroke-width="1.3"/>
<circle cx="600.00" cy="391.20" r="2.4" fill="#1cb8bf" stroke="#111" stroke-width="0.9"/>
<text x="619.00" y="395.60" font-size="12.5" text-anchor="start" font-weight="normal" font-style="italic" fill="#000" >bak1-5;</text>
<text x="619.00" y="410.60" font-size="12.5" text-anchor="start" font-weight="normal" font-style="italic" fill="#000" >bkk1-1</text>
<line x1="600.0" y1="417.40" x2="600.0" y2="435.80" stroke="#1a1a1a" stroke-width="1.3"/>
<rect x="590.80" y="420.40" width="18.4" height="12.4" fill="#c3a6d2" stroke="#1a1a1a" stroke-width="1.35"/>
<line x1="590.80" y1="426.60" x2="609.20" y2="426.60" stroke="#1a1a1a" stroke-width="1.3"/>
<circle cx="600.00" cy="426.60" r="2.4" fill="#a57bc4" stroke="#111" stroke-width="0.9"/>
<text x="619.00" y="431.00" font-size="12.5" text-anchor="start" font-weight="normal" font-style="normal" fill="#000" >Oy−0</text>
<text x="0.40" y="539.30" font-size="17.5" text-anchor="start" font-weight="bold" font-style="normal" fill="#000" >C</text>
<rect x="58.5" y="550.5" width="255.10000000000002" height="184.0" fill="#fff"/>
<line x1="58.5" y1="717.40" x2="313.6" y2="717.40" stroke="#e1e1e1" stroke-width="1"/>
<line x1="58.5" y1="679.82" x2="313.6" y2="679.82" stroke="#e1e1e1" stroke-width="1"/>
<line x1="58.5" y1="642.24" x2="313.6" y2="642.24" stroke="#e1e1e1" stroke-width="1"/>
<line x1="58.5" y1="604.66" x2="313.6" y2="604.66" stroke="#e1e1e1" stroke-width="1"/>
<line x1="58.5" y1="567.08" x2="313.6" y2="567.08" stroke="#e1e1e1" stroke-width="1"/>
<rect x="69.40" y="716.30" width="36.50" height="2.20" fill="none" stroke="#222" stroke-width="1.2"/>
<line x1="69.40" y1="717.40" x2="105.90" y2="717.40" stroke="#111" stroke-width="2.5"/>
<circle cx="73.20" cy="717.40" r="2.6" fill="#ee6b65" stroke="#111" stroke-width="0.9"/>
<circle cx="74.40" cy="717.30" r="2.6" fill="#ee6b65" stroke="#111" stroke-width="0.9"/>
<circle cx="75.60" cy="717.50" r="2.6" fill="#ee6b65" stroke="#111" stroke-width="0.9"/>
<circle cx="88.80" cy="717.40" r="2.6" fill="#6cb445" stroke="#111" stroke-width="0.9"/>
<circle cx="100.60" cy="717.40" r="2.6" fill="#a57bc4" stroke="#111" stroke-width="0.9"/>
<circle cx="100.20" cy="717.50" r="2.6" fill="#a57bc4" stroke="#111" stroke-width="0.9"/>
<text x="87.93" y="731.00" font-size="12" text-anchor="middle" font-weight="normal" font-style="normal" fill="#000" >n=12</text>
<rect x="118.30" y="716.30" width="37.20" height="2.20" fill="none" stroke="#222" stroke-width="1.2"/>
<line x1="118.30" y1="717.40" x2="155.50" y2="717.40" stroke="#111" stroke-width="2.5"/>
<circle cx="121.50" cy="717.20" r="2.6" fill="#ee6b65" stroke="#111" stroke-width="0.9"/>
<circle cx="123.50" cy="716.20" r="2.6" fill="#ee6b65" stroke="#111" stroke-width="0.9"/>
<circle cx="125.00" cy="717.60" r="2.6" fill="#ee6b65" stroke="#111" stroke-width="0.9"/>
<circle cx="126.00" cy="716.50" r="2.6" fill="#ee6b65" stroke="#111" stroke-width="0.9"/>
<circle cx="130.50" cy="716.80" r="2.6" fill="#6cb445" stroke="#111" stroke-width="0.9"/>
<circle cx="132.50" cy="715.80" r="2.6" fill="#6cb445" stroke="#111" stroke-width="0.9"/>
<circle cx="134.00" cy="717.20" r="2.6" fill="#6cb445" stroke="#111" stroke-width="0.9"/>
<circle cx="133.00" cy="716.50" r="2.6" fill="#6cb445" stroke="#111" stroke-width="0.9"/>
<circle cx="139.80" cy="715.20" r="2.6" fill="#1cb8bf" stroke="#111" stroke-width="0.9"/>
<circle cx="141.20" cy="713.80" r="2.6" fill="#1cb8bf" stroke="#111" stroke-width="0.9"/>
<circle cx="142.00" cy="716.60" r="2.6" fill="#1cb8bf" stroke="#111" stroke-width="0.9"/>
<circle cx="140.50" cy="717.30" r="2.6" fill="#1cb8bf" stroke="#111" stroke-width="0.9"/>
<circle cx="148.50" cy="717.00" r="2.6" fill="#a57bc4" stroke="#111" stroke-width="0.9"/>
<circle cx="150.50" cy="716.50" r="2.6" fill="#a57bc4" stroke="#111" stroke-width="0.9"/>
<circle cx="152.20" cy="718.00" r="2.6" fill="#a57bc4" stroke="#111" stroke-width="0.9"/>
<circle cx="154.00" cy="718.30" r="2.6" fill="#a57bc4" stroke="#111" stroke-width="0.9"/>
<text x="136.99" y="731.00" font-size="12" text-anchor="middle" font-weight="normal" font-style="normal" fill="#000" >n=36</text>
<line x1="186.20" y1="689.50" x2="186.20" y2="700.60" stroke="#222" stroke-width="1.2"/>
<rect x="167.40" y="700.60" width="37.60" height="9.20" fill="none" stroke="#222" stroke-width="1.2"/>
<line x1="167.40" y1="706.80" x2="205.00" y2="706.80" stroke="#111" stroke-width="2.5"/>
<circle cx="179.80" cy="685.80" r="2.6" fill="#6cb445" stroke="#111" stroke-width="0.9"/>
<circle cx="189.20" cy="684.00" r="2.6" fill="#1cb8bf" stroke="#111" stroke-width="0.9"/>
<circle cx="190.20" cy="689.00" r="2.6" fill="#1cb8bf" stroke="#111" stroke-width="0.9"/>
<circle cx="181.00" cy="696.90" r="2.6" fill="#6cb445" stroke="#111" stroke-width="0.9"/>
<circle cx="189.70" cy="695.70" r="2.6" fill="#1cb8bf" stroke="#111" stroke-width="0.9"/>
<circle cx="201.40" cy="696.90" r="2.6" fill="#a57bc4" stroke="#111" stroke-width="0.9"/>
<circle cx="180.50" cy="700.60" r="2.6" fill="#6cb445" stroke="#111" stroke-width="0.9"/>
<circle cx="173.60" cy="700.60" r="2.6" fill="#ee6b65" stroke="#111" stroke-width="0.9"/>
<circle cx="199.60" cy="699.90" r="2.6" fill="#a57bc4" stroke="#111" stroke-width="0.9"/>
<circle cx="190.20" cy="703.10" r="2.6" fill="#1cb8bf" stroke="#111" stroke-width="0.9"/>
<circle cx="199.10" cy="704.40" r="2.6" fill="#a57bc4" stroke="#111" stroke-width="0.9"/>
<circle cx="171.10" cy="706.80" r="2.6" fill="#ee6b65" stroke="#111" stroke-width="0.9"/>
<circle cx="191.00" cy="708.10" r="2.6" fill="#1cb8bf" stroke="#111" stroke-width="0.9"/>
<circle cx="181.80" cy="709.30" r="2.6" fill="#6cb445" stroke="#111" stroke-width="0.9"/>
<circle cx="199.60" cy="709.30" r="2.6" fill="#a57bc4" stroke="#111" stroke-width="0.9"/>
<circle cx="172.30" cy="710.60" r="2.6" fill="#ee6b65" stroke="#111" stroke-width="0.9"/>
<circle cx="179.80" cy="713.80" r="2.6" fill="#6cb445" stroke="#111" stroke-width="0.9"/>
<circle cx="199.60" cy="715.00" r="2.6" fill="#a57bc4" stroke="#111" stroke-width="0.9"/>
<circle cx="182.30" cy="716.30" r="2.6" fill="#6cb445" stroke="#111" stroke-width="0.9"/>
<circle cx="192.50" cy="712.00" r="2.6" fill="#1cb8bf" stroke="#111" stroke-width="0.9"/>
<circle cx="201.00" cy="711.50" r="2.6" fill="#a57bc4" stroke="#111" stroke-width="0.9"/>
<circle cx="184.00" cy="705.00" r="2.6" fill="#6cb445" stroke="#111" stroke-width="0.9"/>
<text x="186.05" y="731.00" font-size="12" text-anchor="middle" font-weight="normal" font-style="normal" fill="#000" >n=44</text>
<line x1="235.35" y1="656.00" x2="235.35" y2="667.10" stroke="#222" stroke-width="1.2"/>
<rect x="216.50" y="667.10" width="37.70" height="17.40" fill="none" stroke="#222" stroke-width="1.2"/>
<line x1="216.50" y1="678.30" x2="254.20" y2="678.30" stroke="#111" stroke-width="2.5"/>
<circle cx="239.80" cy="636.90" r="2.6" fill="#1cb8bf" stroke="#111" stroke-width="0.9"/>
<circle cx="247.50" cy="655.50" r="2.6" fill="#a57bc4" stroke="#111" stroke-width="0.9"/>
<circle cx="240.60" cy="664.20" r="2.6" fill="#1cb8bf" stroke="#111" stroke-width="0.9"/>
<circle cx="240.60" cy="666.00" r="2.6" fill="#1cb8bf" stroke="#111" stroke-width="0.9"/>
<circle cx="249.30" cy="666.40" r="2.6" fill="#a57bc4" stroke="#111" stroke-width="0.9"/>
<circle cx="239.80" cy="670.90" r="2.6" fill="#1cb8bf" stroke="#111" stroke-width="0.9"/>
<circle cx="241.30" cy="675.00" r="2.6" fill="#1cb8bf" stroke="#111" stroke-width="0.9"/>
<circle cx="222.00" cy="677.60" r="2.6" fill="#ee6b65" stroke="#111" stroke-width="0.9"/>
<circle cx="250.00" cy="678.30" r="2.6" fill="#a57bc4" stroke="#111" stroke-width="0.9"/>
<circle cx="241.80" cy="680.30" r="2.6" fill="#1cb8bf" stroke="#111" stroke-width="0.9"/>
<circle cx="249.30" cy="683.80" r="2.6" fill="#a57bc4" stroke="#111" stroke-width="0.9"/>
<circle cx="222.70" cy="684.50" r="2.6" fill="#ee6b65" stroke="#111" stroke-width="0.9"/>
<circle cx="240.60" cy="685.00" r="2.6" fill="#1cb8bf" stroke="#111" stroke-width="0.9"/>
<circle cx="231.40" cy="688.20" r="2.6" fill="#6cb445" stroke="#111" stroke-width="0.9"/>
<circle cx="240.60" cy="690.00" r="2.6" fill="#1cb8bf" stroke="#111" stroke-width="0.9"/>
<circle cx="249.30" cy="690.20" r="2.6" fill="#a57bc4" stroke="#111" stroke-width="0.9"/>
<text x="235.11" y="731.00" font-size="12" text-anchor="middle" font-weight="normal" font-style="normal" fill="#000" >n=23</text>
<rect x="265.90" y="626.20" width="37.40" height="6.20" fill="none" stroke="#222" stroke-width="1.2"/>
<line x1="265.90" y1="631.20" x2="303.30" y2="631.20" stroke="#111" stroke-width="2.5"/>
<circle cx="271.60" cy="626.20" r="2.6" fill="#6cb445" stroke="#111" stroke-width="0.9"/>
<circle cx="295.90" cy="631.20" r="2.6" fill="#a57bc4" stroke="#111" stroke-width="0.9"/>
<circle cx="298.40" cy="632.40" r="2.6" fill="#a57bc4" stroke="#111" stroke-width="0.9"/>
<circle cx="283.20" cy="656.00" r="2.6" fill="#1cb8bf" stroke="#111" stroke-width="0.9"/>
<circle cx="286.00" cy="602.00" r="2.6" fill="#1cb8bf" stroke="#111" stroke-width="0.9"/>
<text x="284.17" y="731.00" font-size="12" text-anchor="middle" font-weight="normal" font-style="normal" fill="#000" >n=5</text>
<rect x="58.5" y="550.5" width="255.10" height="184.00" fill="none" stroke="#333333" stroke-width="1"/>
<rect x="58.5" y="528.6" width="255.10" height="21.90" fill="#d4d4d4" stroke="#444" stroke-width="1"/>
<line x1="58.5" y1="550.50" x2="313.6" y2="550.50" stroke="#111" stroke-width="1.15"/>
<text x="186.05" y="543.45" font-size="12" text-anchor="middle" font-weight="bold" font-style="normal" fill="#000" xml:space="preserve">10  dpi</text>
<line x1="87.93" y1="734.5" x2="87.93" y2="738.5" stroke="#333333" stroke-width="1"/>
<line x1="136.99" y1="734.5" x2="136.99" y2="738.5" stroke="#333333" stroke-width="1"/>
<line x1="186.05" y1="734.5" x2="186.05" y2="738.5" stroke="#333333" stroke-width="1"/>
<line x1="235.11" y1="734.5" x2="235.11" y2="738.5" stroke="#333333" stroke-width="1"/>
<line x1="284.17" y1="734.5" x2="284.17" y2="738.5" stroke="#333333" stroke-width="1"/>
<text x="87.93" y="750.80" font-size="13" text-anchor="middle" font-weight="normal" font-style="normal" fill="#000" >0</text>
<text x="136.99" y="750.80" font-size="13" text-anchor="middle" font-weight="normal" font-style="normal" fill="#000" >1</text>
<text x="186.05" y="750.80" font-size="13" text-anchor="middle" font-weight="normal" font-style="normal" fill="#000" >2</text>
<text x="235.11" y="750.80" font-size="13" text-anchor="middle" font-weight="normal" font-style="normal" fill="#000" >3</text>
<text x="284.17" y="750.80" font-size="13" text-anchor="middle" font-weight="normal" font-style="normal" fill="#000" >4</text>
<text x="136.80" y="581.00" font-size="14.8" text-anchor="middle" font-weight="normal" font-style="normal" fill="#000" >rho=0.95</text>
<text x="136.80" y="601.20" font-size="14.8" text-anchor="middle" font-weight="normal" font-style="normal" fill="#000" >p=1.04e−60</text>
<rect x="321.7" y="550.5" width="255.2" height="184.0" fill="#fff"/>
<line x1="321.7" y1="717.40" x2="576.9" y2="717.40" stroke="#e1e1e1" stroke-width="1"/>
<line x1="321.7" y1="679.82" x2="576.9" y2="679.82" stroke="#e1e1e1" stroke-width="1"/>
<line x1="321.7" y1="642.24" x2="576.9" y2="642.24" stroke="#e1e1e1" stroke-width="1"/>
<line x1="321.7" y1="604.66" x2="576.9" y2="604.66" stroke="#e1e1e1" stroke-width="1"/>
<line x1="321.7" y1="567.08" x2="576.9" y2="567.08" stroke="#e1e1e1" stroke-width="1"/>
<rect x="332.40" y="716.30" width="36.90" height="2.20" fill="none" stroke="#222" stroke-width="1.2"/>
<line x1="332.40" y1="717.40" x2="369.30" y2="717.40" stroke="#111" stroke-width="2.5"/>
<circle cx="350.10" cy="711.20" r="2.6" fill="#ee6b65" stroke="#111" stroke-width="0.9"/>
<circle cx="350.10" cy="717.20" r="2.6" fill="#ee6b65" stroke="#111" stroke-width="0.9"/>
<circle cx="350.80" cy="717.70" r="2.6" fill="#ee6b65" stroke="#111" stroke-width="0.9"/>
<text x="351.15" y="731.00" font-size="12" text-anchor="middle" font-weight="normal" font-style="normal" fill="#000" >n=10</text>
<rect x="381.50" y="716.30" width="36.90" height="2.20" fill="none" stroke="#222" stroke-width="1.2"/>
<line x1="381.50" y1="717.40" x2="418.40" y2="717.40" stroke="#111" stroke-width="2.5"/>
<circle cx="390.00" cy="717.20" r="2.6" fill="#ee6b65" stroke="#111" stroke-width="0.9"/>
<circle cx="391.90" cy="717.60" r="2.6" fill="#ee6b65" stroke="#111" stroke-width="0.9"/>
<circle cx="408.00" cy="715.80" r="2.6" fill="#6cb445" stroke="#111" stroke-width="0.9"/>
<text x="400.22" y="731.00" font-size="12" text-anchor="middle" font-weight="normal" font-style="normal" fill="#000" >n=5</text>
<line x1="449.70" y1="683.00" x2="449.70" y2="693.40" stroke="#222" stroke-width="1.2"/>
<line x1="449.70" y1="703.40" x2="449.70" y2="715.80" stroke="#222" stroke-width="1.2"/>
<rect x="430.90" y="693.40" width="37.60" height="10.00" fill="none" stroke="#222" stroke-width="1.2"/>
<line x1="430.90" y1="698.00" x2="468.50" y2="698.00" stroke="#111" stroke-width="2.5"/>
<circle cx="463.90" cy="678.00" r="2.6" fill="#a57bc4" stroke="#111" stroke-width="0.9"/>
<circle cx="435.00" cy="684.20" r="2.6" fill="#ee6b65" stroke="#111" stroke-width="0.9"/>
<circle cx="437.30" cy="682.60" r="2.6" fill="#ee6b65" stroke="#111" stroke-width="0.9"/>
<circle cx="443.80" cy="682.60" r="2.6" fill="#6cb445" stroke="#111" stroke-width="0.9"/>
<circle cx="445.90" cy="692.80" r="2.6" fill="#6cb445" stroke="#111" stroke-width="0.9"/>
<circle cx="463.20" cy="695.10" r="2.6" fill="#a57bc4" stroke="#111" stroke-width="0.9"/>
<circle cx="454.60" cy="697.40" r="2.6" fill="#1cb8bf" stroke="#111" stroke-width="0.9"/>
<circle cx="444.30" cy="697.40" r="2.6" fill="#6cb445" stroke="#111" stroke-width="0.9"/>
<circle cx="436.20" cy="698.80" r="2.6" fill="#ee6b65" stroke="#111" stroke-width="0.9"/>
<circle cx="434.30" cy="701.50" r="2.6" fill="#ee6b65" stroke="#111" stroke-width="0.9"/>
<circle cx="445.40" cy="705.70" r="2.6" fill="#6cb445" stroke="#111" stroke-width="0.9"/>
<circle cx="436.90" cy="708.90" r="2.6" fill="#ee6b65" stroke="#111" stroke-width="0.9"/>
<circle cx="436.20" cy="712.60" r="2.6" fill="#ee6b65" stroke="#111" stroke-width="0.9"/>
<circle cx="434.60" cy="716.10" r="2.6" fill="#ee6b65" stroke="#111" stroke-width="0.9"/>
<text x="449.30" y="731.00" font-size="12" text-anchor="middle" font-weight="normal" font-style="normal" fill="#000" >n=19</text>
<line x1="498.70" y1="626.80" x2="498.70" y2="657.30" stroke="#222" stroke-width="1.2"/>
<line x1="498.70" y1="683.80" x2="498.70" y2="691.30" stroke="#222" stroke-width="1.2"/>
<rect x="480.00" y="657.30" width="37.40" height="26.50" fill="none" stroke="#222" stroke-width="1.2"/>
<line x1="480.00" y1="668.40" x2="517.40" y2="668.40" stroke="#111" stroke-width="2.5"/>
<circle cx="493.80" cy="626.30" r="2.6" fill="#6cb445" stroke="#111" stroke-width="0.9"/>
<circle cx="494.90" cy="633.80" r="2.6" fill="#6cb445" stroke="#111" stroke-width="0.9"/>
<circle cx="492.50" cy="640.70" r="2.6" fill="#6cb445" stroke="#111" stroke-width="0.9"/>
<circle cx="502.40" cy="641.50" r="2.6" fill="#1cb8bf" stroke="#111" stroke-width="0.9"/>
<circle cx="512.60" cy="645.10" r="2.6" fill="#a57bc4" stroke="#111" stroke-width="0.9"/>
<circle cx="503.70" cy="649.90" r="2.6" fill="#1cb8bf" stroke="#111" stroke-width="0.9"/>
<circle cx="501.80" cy="652.00" r="2.6" fill="#1cb8bf" stroke="#111" stroke-width="0.9"/>
<circle cx="511.00" cy="651.50" r="2.6" fill="#a57bc4" stroke="#111" stroke-width="0.9"/>
<circle cx="493.80" cy="655.50" r="2.6" fill="#6cb445" stroke="#111" stroke-width="0.9"/>
<circle cx="511.40" cy="657.30" r="2.6" fill="#a57bc4" stroke="#111" stroke-width="0.9"/>
<circle cx="513.70" cy="658.90" r="2.6" fill="#a57bc4" stroke="#111" stroke-width="0.9"/>
<circle cx="503.40" cy="660.50" r="2.6" fill="#1cb8bf" stroke="#111" stroke-width="0.9"/>
<circle cx="494.90" cy="664.00" r="2.6" fill="#6cb445" stroke="#111" stroke-width="0.9"/>
<circle cx="493.30" cy="665.60" r="2.6" fill="#6cb445" stroke="#111" stroke-width="0.9"/>
<circle cx="483.70" cy="666.70" r="2.6" fill="#ee6b65" stroke="#111" stroke-width="0.9"/>
<circle cx="493.80" cy="671.60" r="2.6" fill="#6cb445" stroke="#111" stroke-width="0.9"/>
<circle cx="504.00" cy="674.50" r="2.6" fill="#1cb8bf" stroke="#111" stroke-width="0.9"/>
<circle cx="483.70" cy="675.30" r="2.6" fill="#ee6b65" stroke="#111" stroke-width="0.9"/>
<circle cx="494.90" cy="677.70" r="2.6" fill="#6cb445" stroke="#111" stroke-width="0.9"/>
<circle cx="501.60" cy="677.70" r="2.6" fill="#1cb8bf" stroke="#111" stroke-width="0.9"/>
<circle cx="512.90" cy="678.50" r="2.6" fill="#a57bc4" stroke="#111" stroke-width="0.9"/>
<circle cx="503.70" cy="683.00" r="2.6" fill="#1cb8bf" stroke="#111" stroke-width="0.9"/>
<circle cx="486.10" cy="683.80" r="2.6" fill="#ee6b65" stroke="#111" stroke-width="0.9"/>
<circle cx="513.70" cy="684.10" r="2.6" fill="#a57bc4" stroke="#111" stroke-width="0.9"/>
<circle cx="513.40" cy="686.20" r="2.6" fill="#a57bc4" stroke="#111" stroke-width="0.9"/>
<circle cx="484.80" cy="688.40" r="2.6" fill="#ee6b65" stroke="#111" stroke-width="0.9"/>
<circle cx="493.00" cy="688.40" r="2.6" fill="#6cb445" stroke="#111" stroke-width="0.9"/>
<circle cx="502.90" cy="688.10" r="2.6" fill="#1cb8bf" stroke="#111" stroke-width="0.9"/>
<circle cx="504.50" cy="690.20" r="2.6" fill="#1cb8bf" stroke="#111" stroke-width="0.9"/>
<circle cx="492.50" cy="692.10" r="2.6" fill="#6cb445" stroke="#111" stroke-width="0.9"/>
<text x="498.38" y="731.00" font-size="12" text-anchor="middle" font-weight="normal" font-style="normal" fill="#000" >n=41</text>
<line x1="547.75" y1="558.00" x2="547.75" y2="593.00" stroke="#222" stroke-width="1.2"/>
<line x1="547.75" y1="625.80" x2="547.75" y2="669.60" stroke="#222" stroke-width="1.2"/>
<rect x="529.10" y="593.00" width="37.30" height="32.80" fill="none" stroke="#222" stroke-width="1.2"/>
<line x1="529.10" y1="611.30" x2="566.40" y2="611.30" stroke="#111" stroke-width="2.5"/>
<circle cx="551.10" cy="559.60" r="2.6" fill="#1cb8bf" stroke="#111" stroke-width="0.9"/>
<circle cx="552.70" cy="558.40" r="2.6" fill="#1cb8bf" stroke="#111" stroke-width="0.9"/>
<circle cx="542.30" cy="565.70" r="2.6" fill="#6cb445" stroke="#111" stroke-width="0.9"/>
<circle cx="551.10" cy="568.00" r="2.6" fill="#1cb8bf" stroke="#111" stroke-width="0.9"/>
<circle cx="553.80" cy="568.00" r="2.6" fill="#1cb8bf" stroke="#111" stroke-width="0.9"/>
<circle cx="560.70" cy="569.00" r="2.6" fill="#a57bc4" stroke="#111" stroke-width="0.9"/>
<circle cx="561.50" cy="574.90" r="2.6" fill="#a57bc4" stroke="#111" stroke-width="0.9"/>
<circle cx="552.70" cy="577.30" r="2.6" fill="#1cb8bf" stroke="#111" stroke-width="0.9"/>
<circle cx="551.90" cy="583.40" r="2.6" fill="#1cb8bf" stroke="#111" stroke-width="0.9"/>
<circle cx="553.80" cy="585.70" r="2.6" fill="#1cb8bf" stroke="#111" stroke-width="0.9"/>
<circle cx="561.90" cy="593.00" r="2.6" fill="#a57bc4" stroke="#111" stroke-width="0.9"/>
<circle cx="553.50" cy="595.40" r="2.6" fill="#1cb8bf" stroke="#111" stroke-width="0.9"/>
<circle cx="561.20" cy="596.60" r="2.6" fill="#a57bc4" stroke="#111" stroke-width="0.9"/>
<circle cx="553.50" cy="598.20" r="2.6" fill="#1cb8bf" stroke="#111" stroke-width="0.9"/>
<circle cx="560.30" cy="600.10" r="2.6" fill="#a57bc4" stroke="#111" stroke-width="0.9"/>
<circle cx="543.60" cy="601.40" r="2.6" fill="#6cb445" stroke="#111" stroke-width="0.9"/>
<circle cx="551.60" cy="602.70" r="2.6" fill="#1cb8bf" stroke="#111" stroke-width="0.9"/>
<circle cx="552.70" cy="610.20" r="2.6" fill="#1cb8bf" stroke="#111" stroke-width="0.9"/>
<circle cx="559.90" cy="610.20" r="2.6" fill="#a57bc4" stroke="#111" stroke-width="0.9"/>
<circle cx="562.80" cy="611.50" r="2.6" fill="#a57bc4" stroke="#111" stroke-width="0.9"/>
<circle cx="561.50" cy="615.80" r="2.6" fill="#a57bc4" stroke="#111" stroke-width="0.9"/>
<circle cx="560.70" cy="619.40" r="2.6" fill="#a57bc4" stroke="#111" stroke-width="0.9"/>
<circle cx="534.20" cy="621.90" r="2.6" fill="#ee6b65" stroke="#111" stroke-width="0.9"/>
<circle cx="535.00" cy="625.50" r="2.6" fill="#ee6b65" stroke="#111" stroke-width="0.9"/>
<circle cx="541.50" cy="625.50" r="2.6" fill="#6cb445" stroke="#111" stroke-width="0.9"/>
<circle cx="544.20" cy="623.10" r="2.6" fill="#6cb445" stroke="#111" stroke-width="0.9"/>
<circle cx="550.30" cy="625.50" r="2.6" fill="#1cb8bf" stroke="#111" stroke-width="0.9"/>
<circle cx="552.70" cy="623.90" r="2.6" fill="#1cb8bf" stroke="#111" stroke-width="0.9"/>
<circle cx="561.00" cy="624.20" r="2.6" fill="#a57bc4" stroke="#111" stroke-width="0.9"/>
<circle cx="553.00" cy="629.00" r="2.6" fill="#1cb8bf" stroke="#111" stroke-width="0.9"/>
<circle cx="552.70" cy="633.20" r="2.6" fill="#1cb8bf" stroke="#111" stroke-width="0.9"/>
<circle cx="559.90" cy="632.20" r="2.6" fill="#a57bc4" stroke="#111" stroke-width="0.9"/>
<circle cx="560.40" cy="637.50" r="2.6" fill="#a57bc4" stroke="#111" stroke-width="0.9"/>
<circle cx="562.80" cy="637.50" r="2.6" fill="#a57bc4" stroke="#111" stroke-width="0.9"/>
<circle cx="533.40" cy="636.70" r="2.6" fill="#ee6b65" stroke="#111" stroke-width="0.9"/>
<circle cx="552.70" cy="643.60" r="2.6" fill="#1cb8bf" stroke="#111" stroke-width="0.9"/>
<circle cx="561.20" cy="653.10" r="2.6" fill="#a57bc4" stroke="#111" stroke-width="0.9"/>
<circle cx="551.90" cy="656.50" r="2.6" fill="#1cb8bf" stroke="#111" stroke-width="0.9"/>
<circle cx="551.60" cy="669.60" r="2.6" fill="#1cb8bf" stroke="#111" stroke-width="0.9"/>
<text x="547.45" y="731.00" font-size="12" text-anchor="middle" font-weight="normal" font-style="normal" fill="#000" >n=45</text>
<rect x="321.7" y="550.5" width="255.20" height="184.00" fill="none" stroke="#333333" stroke-width="1"/>
<rect x="321.7" y="528.6" width="255.20" height="21.90" fill="#d4d4d4" stroke="#444" stroke-width="1"/>
<line x1="321.7" y1="550.50" x2="576.9" y2="550.50" stroke="#111" stroke-width="1.15"/>
<text x="449.30" y="543.45" font-size="12" text-anchor="middle" font-weight="bold" font-style="normal" fill="#000" xml:space="preserve">14  dpi</text>
<line x1="351.15" y1="734.5" x2="351.15" y2="738.5" stroke="#333333" stroke-width="1"/>
<line x1="400.22" y1="734.5" x2="400.22" y2="738.5" stroke="#333333" stroke-width="1"/>
<line x1="449.30" y1="734.5" x2="449.30" y2="738.5" stroke="#333333" stroke-width="1"/>
<line x1="498.38" y1="734.5" x2="498.38" y2="738.5" stroke="#333333" stroke-width="1"/>
<line x1="547.45" y1="734.5" x2="547.45" y2="738.5" stroke="#333333" stroke-width="1"/>
<text x="351.15" y="750.80" font-size="13" text-anchor="middle" font-weight="normal" font-style="normal" fill="#000" >0</text>
<text x="400.22" y="750.80" font-size="13" text-anchor="middle" font-weight="normal" font-style="normal" fill="#000" >1</text>
<text x="449.30" y="750.80" font-size="13" text-anchor="middle" font-weight="normal" font-style="normal" fill="#000" >2</text>
<text x="498.38" y="750.80" font-size="13" text-anchor="middle" font-weight="normal" font-style="normal" fill="#000" >3</text>
<text x="547.45" y="750.80" font-size="13" text-anchor="middle" font-weight="normal" font-style="normal" fill="#000" >4</text>
<text x="400.00" y="581.00" font-size="14.8" text-anchor="middle" font-weight="normal" font-style="normal" fill="#000" >rho=0.92</text>
<text x="400.00" y="601.20" font-size="14.8" text-anchor="middle" font-weight="normal" font-style="normal" fill="#000" >p=2.19e−50</text>
<line x1="54.30" y1="717.40" x2="58.5" y2="717.40" stroke="#333333" stroke-width="1"/>
<text x="51.70" y="722.20" font-size="13.5" text-anchor="end" font-weight="normal" font-style="normal" fill="#000" >0</text>
<line x1="54.30" y1="679.82" x2="58.5" y2="679.82" stroke="#333333" stroke-width="1"/>
<text x="51.70" y="684.62" font-size="13.5" text-anchor="end" font-weight="normal" font-style="normal" fill="#000" >20</text>
<line x1="54.30" y1="642.24" x2="58.5" y2="642.24" stroke="#333333" stroke-width="1"/>
<text x="51.70" y="647.04" font-size="13.5" text-anchor="end" font-weight="normal" font-style="normal" fill="#000" >40</text>
<line x1="54.30" y1="604.66" x2="58.5" y2="604.66" stroke="#333333" stroke-width="1"/>
<text x="51.70" y="609.46" font-size="13.5" text-anchor="end" font-weight="normal" font-style="normal" fill="#000" >60</text>
<line x1="54.30" y1="567.08" x2="58.5" y2="567.08" stroke="#333333" stroke-width="1"/>
<text x="51.70" y="571.88" font-size="13.5" text-anchor="end" font-weight="normal" font-style="normal" fill="#000" >80</text>
<text transform="translate(12.3,642.5) rotate(-90)" font-size="13.4" text-anchor="middle">Bacterial spread</text>
<text transform="translate(24.8,642.5) rotate(-90)" font-size="13.4" text-anchor="middle">(% of leaf area)</text>
<text x="317.60" y="767.50" font-size="13.4" text-anchor="middle" font-weight="normal" font-style="normal" fill="#000" >Luminescence Index</text>
<text x="587.50" y="595.80" font-size="14.5" text-anchor="start" font-weight="normal" font-style="normal" fill="#000" >Genotype</text>
<circle cx="604.90" cy="616.90" r="2.7" fill="#ee6b65" stroke="#111" stroke-width="0.9"/>
<text x="619.00" y="621.30" font-size="12.5" text-anchor="start" font-weight="normal" font-style="normal" fill="#000" >Col−0</text>
<circle cx="604.90" cy="640.30" r="2.7" fill="#6cb445" stroke="#111" stroke-width="0.9"/>
<text x="619.00" y="644.70" font-size="12.5" text-anchor="start" font-weight="normal" font-style="italic" fill="#000" >sobir1−12</text>
<circle cx="604.90" cy="663.40" r="2.7" fill="#1cb8bf" stroke="#111" stroke-width="0.9"/>
<text x="619.00" y="667.80" font-size="12.5" text-anchor="start" font-weight="normal" font-style="italic" fill="#000" >bak1-5;</text>
<text x="619.00" y="681.80" font-size="12.5" text-anchor="start" font-weight="normal" font-style="italic" fill="#000" >bkk1-1</text>
<circle cx="604.90" cy="693.40" r="2.7" fill="#a57bc4" stroke="#111" stroke-width="0.9"/>
<text x="619.00" y="697.80" font-size="12.5" text-anchor="start" font-weight="normal" font-style="normal" fill="#000" >Oy−0</text>
<text x="0.60" y="805.80" font-size="17.5" text-anchor="start" font-weight="bold" font-style="normal" fill="#000" >D</text>
<defs><linearGradient id="wg" x1="0" y1="757" x2="0" y2="805" gradientUnits="userSpaceOnUse"><stop offset="0" stop-color="#dedede"/><stop offset="1" stop-color="#555555"/></linearGradient><filter id="bl" x="-50%" y="-50%" width="200%" height="200%"><feGaussianBlur stdDeviation="1.2"/></filter><filter id="bl2" x="-50%" y="-50%" width="200%" height="200%"><feGaussianBlur stdDeviation="0.6"/></filter><filter id="bl3" x="-50%" y="-50%" width="200%" height="200%"><feGaussianBlur stdDeviation="2.5"/></filter><filter id="bl4" x="-10%" y="-10%" width="120%" height="120%"><feGaussianBlur stdDeviation="0.45"/></filter></defs>
<path d="M60.0,804.6 C68.0,804.3 90.2,803.8 108.0,803.0 C125.8,802.2 143.3,801.2 167.0,800.0 C190.7,798.8 224.5,797.2 250.0,795.5 C275.5,793.8 298.3,791.9 320.0,789.5 C341.7,787.1 359.3,784.2 380.0,781.0 C400.7,777.8 425.2,774.1 444.0,770.0 C462.8,765.9 484.5,758.6 492.6,756.3  C493.2,757.9 494.6,763.0 496.0,766.0 C497.4,769.0 498.2,770.6 500.9,774.1 C503.6,777.6 507.6,783.1 512.1,786.9 C516.7,790.6 521.5,793.9 528.2,796.6 C534.9,799.3 544.0,801.5 552.3,803.0 C560.6,804.5 573.7,805.1 578.0,805.5  L60,805.5 Z" fill="url(#wg)"/>
<line x1="60" y1="805.3" x2="578" y2="805.3" stroke="#222" stroke-width="1.2"/>
<text x="419.20" y="801.30" font-size="13.4" text-anchor="middle" font-weight="normal" font-style="normal" fill="#ececec" >Luminescence Index</text>
<rect x="60.2" y="822.8" width="77.2" height="134.80000000000007" fill="#70a4d1"/>
<path d="M98.9,829.6 C102.1,829.8 108.6,830.1 112.0,831.1 C115.4,832.1 117.1,833.5 119.3,835.5 C121.5,837.5 123.7,840.1 125.2,842.8 C126.7,845.5 127.5,848.3 128.1,851.5 C128.7,854.7 128.6,858.1 128.8,861.8 C129.1,865.5 129.3,870.6 129.6,873.5 C129.9,876.4 130.8,877.3 130.7,879.3 C130.6,881.2 129.2,882.8 128.8,885.2 C128.4,887.6 128.5,891.5 128.1,893.9 C127.7,896.3 127.1,898.0 126.6,899.5 C126.1,901.0 125.4,901.2 124.9,902.7 C124.4,904.2 124.3,906.7 123.7,908.6 C123.1,910.5 122.5,912.5 121.5,914.4 C120.5,916.3 119.2,918.3 117.9,920.3 C116.6,922.2 115.0,924.1 113.5,926.1 C112.0,928.1 110.6,930.0 109.1,932.0 C107.6,934.0 106.0,935.7 104.7,937.8 C103.4,939.9 102.0,942.3 101.1,944.4 C100.2,946.5 99.8,948.7 99.2,950.2 C98.6,951.7 98.1,952.8 97.4,953.2 C96.7,953.6 95.7,953.3 94.8,952.4 C93.9,951.5 92.8,949.7 91.8,948.0 C90.8,946.3 89.9,943.9 88.9,942.2 C87.9,940.5 87.0,939.2 85.7,937.8 C84.4,936.4 83.0,935.4 81.3,933.7 C79.6,932.1 77.2,930.0 75.5,927.9 C73.8,925.8 72.3,922.8 71.4,921.0 C70.5,919.2 70.4,918.8 69.9,917.3 C69.4,915.8 69.2,914.2 68.5,912.2 C67.8,910.2 66.7,908.2 66.0,905.6 C65.3,903.0 64.2,899.3 64.1,896.9 C64.0,894.5 65.1,893.7 65.2,891.0 C65.3,888.3 64.5,884.2 64.6,880.8 C64.7,877.4 65.3,873.8 65.8,870.6 C66.3,867.4 66.8,864.7 67.4,861.8 C68.0,858.9 68.5,855.9 69.6,853.0 C70.7,850.1 72.3,846.9 74.0,844.2 C75.7,841.5 77.7,839.0 79.9,836.9 C82.1,834.8 85.0,833.0 87.2,831.8 C89.4,830.6 91.0,830.3 93.0,829.9 C95.0,829.5 95.7,829.4 98.9,829.6 Z" fill="#6096b3" filter="url(#bl4)"/>
<ellipse cx="77.5" cy="853" rx="8.5" ry="13" fill="#2c4f5e" filter="url(#bl3)"/>
<ellipse cx="76.5" cy="849" rx="5" ry="7.5" fill="#0b1418" filter="url(#bl)"/>
<ellipse cx="76" cy="857" rx="4" ry="5.5" fill="#0b1418" filter="url(#bl)"/>
<ellipse cx="80" cy="845" rx="3" ry="3" fill="#2c4f5e" filter="url(#bl)"/>
<ellipse cx="76.8" cy="849.5" rx="3.6" ry="6" fill="#0b1418" filter="url(#bl2)"/>
<ellipse cx="75.5" cy="856" rx="2.5" ry="3.5" fill="#0b1418" filter="url(#bl2)"/>
<path d="M78.0,858.0 C79.0,859.3 82.0,863.0 84.0,866.0 C86.0,869.0 88.2,872.8 90.0,876.0 C91.8,879.2 93.7,881.9 94.5,885.2 C95.3,888.5 94.7,892.1 94.7,896.0 C94.7,899.9 94.5,906.5 94.5,908.6 " stroke="#2c4f5e" stroke-width="4.68" fill="none" stroke-linecap="round" opacity="0.55" filter="url(#bl3)"/><path d="M78.0,858.0 C79.0,859.3 82.0,863.0 84.0,866.0 C86.0,869.0 88.2,872.8 90.0,876.0 C91.8,879.2 93.7,881.9 94.5,885.2 C95.3,888.5 94.7,892.1 94.7,896.0 C94.7,899.9 94.5,906.5 94.5,908.6 " stroke="#0b1418" stroke-width="2.25" fill="none" stroke-linecap="round" filter="url(#bl2)"/>
<path d="M83.0,856.0 C84.2,856.7 87.8,858.3 90.0,860.0 C92.2,861.7 95.3,863.0 96.5,866.0 C97.7,869.0 97.6,874.5 97.4,877.9 C97.2,881.3 95.6,885.1 95.2,886.6 " stroke="#2c4f5e" stroke-width="3.90" fill="none" stroke-linecap="round" opacity="0.55" filter="url(#bl3)"/><path d="M83.0,856.0 C84.2,856.7 87.8,858.3 90.0,860.0 C92.2,861.7 95.3,863.0 96.5,866.0 C97.7,869.0 97.6,874.5 97.4,877.9 C97.2,881.3 95.6,885.1 95.2,886.6 " stroke="#0b1418" stroke-width="1.88" fill="none" stroke-linecap="round" filter="url(#bl2)"/>
<path d="M80.0,864.0 C80.7,865.2 82.7,869.0 84.0,871.0 C85.3,873.0 87.3,875.2 88.0,876.0 " stroke="#2c4f5e" stroke-width="2.60" fill="none" stroke-linecap="round" opacity="0.55" filter="url(#bl3)"/><path d="M80.0,864.0 C80.7,865.2 82.7,869.0 84.0,871.0 C85.3,873.0 87.3,875.2 88.0,876.0 " stroke="#0b1418" stroke-width="1.25" fill="none" stroke-linecap="round" filter="url(#bl2)"/>
<ellipse cx="122.5" cy="845.4" rx="1.6" ry="1.6" fill="#0b1418" filter="url(#bl)"/>
<ellipse cx="78.4" cy="935.6" rx="2.2" ry="2.0" fill="#0b1418" filter="url(#bl)"/>
<ellipse cx="118.6" cy="920.3" rx="1.5" ry="1.5" fill="#2c4f5e" filter="url(#bl)"/>
<text x="98.80" y="820.00" font-size="12.5" text-anchor="middle" font-weight="normal" font-style="normal" fill="#000" >3</text>
<text x="98.80" y="973.40" font-size="13" text-anchor="middle" font-weight="normal" font-style="normal" fill="#000" >13</text>
<rect x="171.0" y="822.8" width="77.2" height="134.80000000000007" fill="#70a4d1"/>
<path d="M216.2,845.7 C219.8,846.2 225.7,847.4 229.3,850.1 C233.0,852.8 235.9,857.4 238.1,861.8 C240.3,866.2 241.5,872.0 242.5,876.4 C243.5,880.8 243.9,884.7 243.9,888.1 C243.9,891.5 243.2,894.0 242.5,896.9 C241.8,899.8 240.6,902.7 239.6,905.6 C238.6,908.5 237.6,911.0 236.6,914.4 C235.6,917.8 235.4,922.7 233.7,926.1 C232.0,929.5 228.8,932.0 226.4,934.9 C224.0,937.8 221.3,940.3 219.1,943.7 C216.9,947.1 214.9,953.5 213.2,955.4 C211.5,957.3 210.3,956.9 208.9,955.4 C207.5,953.9 206.2,950.5 204.5,946.6 C202.8,942.7 200.5,936.4 198.6,932.0 C196.7,927.6 194.5,924.0 192.8,920.3 C191.1,916.6 189.4,913.9 188.4,910.0 C187.4,906.1 187.0,901.8 186.9,896.9 C186.8,892.0 187.0,886.2 187.7,880.8 C188.4,875.4 189.5,869.3 191.3,864.7 C193.1,860.1 195.9,855.9 198.6,853.0 C201.3,850.1 204.5,848.4 207.4,847.2 C210.3,846.0 212.5,845.2 216.2,845.7 Z" fill="#6096b3" filter="url(#bl4)"/>
<ellipse cx="193" cy="913" rx="9" ry="9" fill="#2c4f5e" filter="url(#bl3)"/>
<ellipse cx="192" cy="912" rx="5.8" ry="6.3" fill="#0b1418" filter="url(#bl)"/>
<ellipse cx="232.3" cy="925.5" rx="9" ry="10" fill="#2c4f5e" filter="url(#bl3)"/>
<ellipse cx="232.3" cy="925.5" rx="6" ry="7.5" fill="#0b1418" filter="url(#bl)"/>
<ellipse cx="243.2" cy="889.6" rx="3.2" ry="3.4" fill="#0b1418" filter="url(#bl)"/>
<ellipse cx="222" cy="845.6" rx="1.8" ry="1.7" fill="#0b1418" filter="url(#bl2)"/>
<path d="M195.0,916.0 C195.8,917.3 198.5,921.0 200.0,924.0 C201.5,927.0 202.5,930.7 204.0,934.0 C205.5,937.3 207.9,941.3 208.9,944.0 C209.9,946.7 209.8,949.0 210.0,950.0 " stroke="#2c4f5e" stroke-width="5.72" fill="none" stroke-linecap="round" opacity="0.55" filter="url(#bl3)"/><path d="M195.0,916.0 C195.8,917.3 198.5,921.0 200.0,924.0 C201.5,927.0 202.5,930.7 204.0,934.0 C205.5,937.3 207.9,941.3 208.9,944.0 C209.9,946.7 209.8,949.0 210.0,950.0 " stroke="#0b1418" stroke-width="2.75" fill="none" stroke-linecap="round" filter="url(#bl2)"/>
<path d="M211.8,949.5 C212.1,947.6 212.5,941.4 213.5,938.0 C214.5,934.6 216.1,931.7 218.0,929.0 C219.9,926.3 221.7,924.2 225.0,922.0 C228.3,919.8 235.9,916.9 238.1,915.9 " stroke="#2c4f5e" stroke-width="5.20" fill="none" stroke-linecap="round" opacity="0.55" filter="url(#bl3)"/><path d="M211.8,949.5 C212.1,947.6 212.5,941.4 213.5,938.0 C214.5,934.6 216.1,931.7 218.0,929.0 C219.9,926.3 221.7,924.2 225.0,922.0 C228.3,919.8 235.9,916.9 238.1,915.9 " stroke="#0b1418" stroke-width="2.50" fill="none" stroke-linecap="round" filter="url(#bl2)"/>
<path d="M214.0,947.0 C214.7,945.2 216.0,939.0 218.0,936.0 C220.0,933.0 224.7,930.2 226.0,929.0 " stroke="#2c4f5e" stroke-width="3.90" fill="none" stroke-linecap="round" opacity="0.55" filter="url(#bl3)"/><path d="M214.0,947.0 C214.7,945.2 216.0,939.0 218.0,936.0 C220.0,933.0 224.7,930.2 226.0,929.0 " stroke="#0b1418" stroke-width="1.88" fill="none" stroke-linecap="round" filter="url(#bl2)"/>
<path d="M200.0,914.0 C200.7,914.3 202.7,914.8 204.0,916.0 C205.3,917.2 207.3,920.2 208.0,921.0 " stroke="#2c4f5e" stroke-width="3.90" fill="none" stroke-linecap="round" opacity="0.55" filter="url(#bl3)"/><path d="M200.0,914.0 C200.7,914.3 202.7,914.8 204.0,916.0 C205.3,917.2 207.3,920.2 208.0,921.0 " stroke="#0b1418" stroke-width="1.88" fill="none" stroke-linecap="round" filter="url(#bl2)"/>
<path d="M241.0,893.0 C240.2,894.0 237.7,897.4 236.0,899.0 C234.3,900.6 231.7,902.1 230.8,902.7 " stroke="#2c4f5e" stroke-width="1.25" fill="none" stroke-linecap="round" filter="url(#bl2)"/>
<ellipse cx="237" cy="899" rx="4" ry="3" fill="#2c4f5e" filter="url(#bl)"/>
<text x="209.60" y="820.00" font-size="12.5" text-anchor="middle" font-weight="normal" font-style="normal" fill="#000" >3</text>
<text x="209.60" y="973.40" font-size="13" text-anchor="middle" font-weight="normal" font-style="normal" fill="#000" >20</text>
<rect x="281.0" y="822.8" width="77.2" height="134.80000000000007" fill="#70a4d1"/>
<path d="M311.5,840.6 C315.1,839.6 319.1,839.3 323.2,839.9 C327.3,840.5 333.2,842.5 336.4,844.2 C339.6,845.9 340.6,847.7 342.3,850.1 C344.0,852.5 345.4,855.5 346.6,858.9 C347.8,862.3 349.0,867.0 349.6,870.6 C350.2,874.2 350.3,877.1 350.3,880.8 C350.3,884.4 350.2,888.6 349.6,892.5 C349.0,896.4 347.8,900.6 346.6,904.2 C345.4,907.9 344.0,911.2 342.3,914.4 C340.6,917.6 338.3,920.5 336.4,923.2 C334.4,925.9 332.6,928.4 330.6,930.5 C328.7,932.6 326.4,935.1 324.7,935.6 C323.0,936.1 322.0,934.7 320.3,933.4 C318.6,932.1 316.4,929.5 314.5,927.6 C312.6,925.7 310.8,924.4 308.6,921.7 C306.4,919.0 303.0,914.7 301.3,911.5 C299.6,908.3 299.6,905.9 298.4,902.7 C297.2,899.5 295.2,895.9 294.0,892.5 C292.8,889.1 291.4,886.2 291.1,882.3 C290.9,878.4 291.8,873.2 292.5,869.1 C293.2,865.0 294.5,860.6 295.5,857.4 C296.5,854.2 297.4,852.0 298.4,850.1 C299.4,848.2 299.1,847.3 301.3,845.7 C303.5,844.1 307.9,841.6 311.5,840.6 Z" fill="#6096b3" filter="url(#bl4)"/>
<ellipse cx="321" cy="846" rx="20" ry="7" fill="#2c4f5e" filter="url(#bl3)"/>
<ellipse cx="305.7" cy="846.6" rx="4.2" ry="3.2" fill="#0b1418" filter="url(#bl)"/>
<ellipse cx="312" cy="844" rx="3.5" ry="2.8" fill="#0b1418" filter="url(#bl)"/>
<ellipse cx="319.5" cy="842.8" rx="7" ry="3.8" fill="#0b1418" filter="url(#bl)"/>
<ellipse cx="327" cy="842.3" rx="4.5" ry="3" fill="#0b1418" filter="url(#bl)"/>
<ellipse cx="336.4" cy="848.6" rx="4.5" ry="3.5" fill="#0b1418" filter="url(#bl)"/>
<ellipse cx="320.5" cy="848" rx="3" ry="4" fill="#0b1418" filter="url(#bl)"/>
<path d="M318.9,844.2 C319.1,846.8 319.5,854.0 320.0,860.0 C320.5,866.0 321.4,873.9 321.8,880.0 C322.2,886.1 322.1,894.1 322.2,896.9 " stroke="#2c4f5e" stroke-width="5.72" fill="none" stroke-linecap="round" opacity="0.55" filter="url(#bl3)"/><path d="M318.9,844.2 C319.1,846.8 319.5,854.0 320.0,860.0 C320.5,866.0 321.4,873.9 321.8,880.0 C322.2,886.1 322.1,894.1 322.2,896.9 " stroke="#0b1418" stroke-width="2.75" fill="none" stroke-linecap="round" filter="url(#bl2)"/>
<path d="M322.2,896.9 C322.4,899.9 323.0,909.1 323.5,915.0 C324.0,920.9 325.1,929.2 325.4,932.0 " stroke="#2c4f5e" stroke-width="3.38" fill="none" stroke-linecap="round" opacity="0.55" filter="url(#bl3)"/><path d="M322.2,896.9 C322.4,899.9 323.0,909.1 323.5,915.0 C324.0,920.9 325.1,929.2 325.4,932.0 " stroke="#0b1418" stroke-width="1.62" fill="none" stroke-linecap="round" filter="url(#bl2)"/>
<path d="M321.8,886.6 C322.8,885.8 326.1,883.2 328.0,882.0 C329.9,880.8 331.3,880.0 333.5,879.3 C335.7,878.6 338.6,878.2 341.0,878.0 C343.4,877.8 346.9,877.9 348.1,877.9 " stroke="#2c4f5e" stroke-width="3.64" fill="none" stroke-linecap="round" opacity="0.55" filter="url(#bl3)"/><path d="M321.8,886.6 C322.8,885.8 326.1,883.2 328.0,882.0 C329.9,880.8 331.3,880.0 333.5,879.3 C335.7,878.6 338.6,878.2 341.0,878.0 C343.4,877.8 346.9,877.9 348.1,877.9 " stroke="#0b1418" stroke-width="1.75" fill="none" stroke-linecap="round" filter="url(#bl2)"/>
<ellipse cx="346" cy="879" rx="6" ry="5.5" fill="#2c4f5e" filter="url(#bl3)"/>
<ellipse cx="347.4" cy="877.9" rx="3.4" ry="3.4" fill="#0b1418" filter="url(#bl)"/>
<path d="M321.8,873.5 C322.7,872.2 325.5,868.4 327.0,866.0 C328.5,863.6 330.0,862.0 330.6,858.9 C331.2,855.8 330.6,849.2 330.6,847.2 " stroke="#2c4f5e" stroke-width="3.12" fill="none" stroke-linecap="round" opacity="0.55" filter="url(#bl3)"/><path d="M321.8,873.5 C322.7,872.2 325.5,868.4 327.0,866.0 C328.5,863.6 330.0,862.0 330.6,858.9 C331.2,855.8 330.6,849.2 330.6,847.2 " stroke="#0b1418" stroke-width="1.50" fill="none" stroke-linecap="round" filter="url(#bl2)"/>
<path d="M332.0,895.4 C332.5,894.8 334.0,893.0 335.0,892.0 C336.0,891.0 337.4,890.0 337.9,889.6 " stroke="#2c4f5e" stroke-width="3.90" fill="none" stroke-linecap="round" opacity="0.55" filter="url(#bl3)"/><path d="M332.0,895.4 C332.5,894.8 334.0,893.0 335.0,892.0 C336.0,891.0 337.4,890.0 337.9,889.6 " stroke="#0b1418" stroke-width="1.88" fill="none" stroke-linecap="round" filter="url(#bl2)"/>
<path d="M332.0,910.0 C332.7,909.3 334.5,907.2 336.0,906.0 C337.5,904.8 340.0,903.2 340.8,902.7 " stroke="#2c4f5e" stroke-width="3.90" fill="none" stroke-linecap="round" opacity="0.55" filter="url(#bl3)"/><path d="M332.0,910.0 C332.7,909.3 334.5,907.2 336.0,906.0 C337.5,904.8 340.0,903.2 340.8,902.7 " stroke="#0b1418" stroke-width="1.88" fill="none" stroke-linecap="round" filter="url(#bl2)"/>
<ellipse cx="344.5" cy="902" rx="5.5" ry="5" fill="#2c4f5e" filter="url(#bl3)"/>
<ellipse cx="345.2" cy="901.3" rx="2.6" ry="2.4" fill="#0b1418" filter="url(#bl)"/>
<path d="M304.2,858.9 C305.2,860.1 307.7,863.5 310.0,866.0 C312.3,868.5 316.7,872.7 318.0,874.0 " stroke="#2c4f5e" stroke-width="1.00" fill="none" stroke-linecap="round" filter="url(#bl2)"/>
<path d="M327.0,925.0 C327.3,923.8 328.2,920.2 329.0,918.0 C329.8,915.8 331.5,913.0 332.0,912.0 " stroke="#2c4f5e" stroke-width="3.64" fill="none" stroke-linecap="round" opacity="0.55" filter="url(#bl3)"/><path d="M327.0,925.0 C327.3,923.8 328.2,920.2 329.0,918.0 C329.8,915.8 331.5,913.0 332.0,912.0 " stroke="#0b1418" stroke-width="1.75" fill="none" stroke-linecap="round" filter="url(#bl2)"/>
<text x="319.60" y="820.00" font-size="12.5" text-anchor="middle" font-weight="normal" font-style="normal" fill="#000" >3</text>
<text x="319.60" y="973.40" font-size="13" text-anchor="middle" font-weight="normal" font-style="normal" fill="#000" >30</text>
<rect x="391.7" y="822.8" width="77.2" height="134.80000000000007" fill="#70a4d1"/>
<path d="M420.1,835.5 C424.0,834.4 429.1,834.5 433.2,834.7 C437.3,834.9 441.7,835.3 444.9,836.9 C448.1,838.5 450.4,841.0 452.3,844.2 C454.2,847.4 455.6,852.0 456.6,855.9 C457.6,859.8 457.7,863.9 458.1,867.6 C458.5,871.3 458.8,874.0 458.8,877.9 C458.8,881.8 459.0,887.4 458.1,891.0 C457.2,894.6 455.2,897.1 453.7,899.8 C452.2,902.5 451.0,904.4 449.3,907.1 C447.6,909.8 445.2,912.7 443.5,915.9 C441.8,919.1 440.3,922.9 439.1,926.1 C437.9,929.3 437.4,932.0 436.2,934.9 C435.0,937.8 433.5,940.5 431.8,943.7 C430.1,946.9 427.4,951.8 425.9,953.9 C424.4,956.0 424.0,956.1 423.0,956.1 C422.0,956.1 421.1,956.0 420.1,953.9 C419.1,951.8 418.4,947.1 417.2,943.7 C416.0,940.3 414.5,937.1 412.8,933.4 C411.1,929.7 408.5,924.9 406.9,921.7 C405.3,918.5 404.0,916.6 403.3,914.4 C402.6,912.2 402.9,911.0 402.5,908.6 C402.1,906.2 401.6,902.5 401.1,899.8 C400.6,897.1 399.9,895.7 399.6,892.5 C399.4,889.3 399.4,885.2 399.6,880.8 C399.9,876.4 400.6,870.6 401.1,866.2 C401.6,861.8 401.5,857.9 402.5,854.5 C403.5,851.1 405.7,847.9 406.9,845.7 C408.1,843.5 407.7,843.0 409.9,841.3 C412.1,839.6 416.2,836.6 420.1,835.5 Z" fill="#6096b3" filter="url(#bl4)"/>
<ellipse cx="414" cy="874" rx="14" ry="22" fill="#2c4f5e" filter="url(#bl3)"/>
<path d="M404.0,846.4 C406.2,846.9 411.0,851.9 414.2,854.5 C417.4,857.1 420.3,859.8 423.0,861.8 C425.7,863.8 428.9,863.8 430.3,866.2 C431.7,868.6 431.1,872.3 431.1,876.4 C431.1,880.5 430.9,887.4 430.3,891.0 C429.7,894.6 428.9,897.3 427.4,898.3 C425.9,899.3 423.7,897.5 421.5,896.9 C419.3,896.3 417.6,895.1 414.2,894.7 C410.8,894.3 403.7,897.0 401.1,894.7 C398.6,892.4 399.1,886.0 398.9,880.8 C398.6,875.5 399.2,868.1 399.6,863.2 C400.0,858.3 400.4,854.3 401.1,851.5 C401.8,848.7 401.8,845.9 404.0,846.4 Z" fill="#0b1418" filter="url(#bl)"/>
<path d="M418.6,864.2 C419.3,865.0 421.5,866.8 423.0,869.0 C424.5,871.2 426.7,876.0 427.4,877.4 " stroke="#2c4f5e" stroke-width="1.25" fill="none" stroke-linecap="round" filter="url(#bl2)"/>
<path d="M430.3,866.2 C430.2,868.5 429.7,874.9 429.5,880.0 C429.3,885.1 429.4,891.6 428.9,896.9 C428.4,902.2 427.2,907.4 426.5,912.0 C425.8,916.6 425.1,918.4 424.5,924.6 C423.9,930.9 423.2,945.4 423.0,949.5 " stroke="#2c4f5e" stroke-width="7.28" fill="none" stroke-linecap="round" opacity="0.55" filter="url(#bl3)"/><path d="M430.3,866.2 C430.2,868.5 429.7,874.9 429.5,880.0 C429.3,885.1 429.4,891.6 428.9,896.9 C428.4,902.2 427.2,907.4 426.5,912.0 C425.8,916.6 425.1,918.4 424.5,924.6 C423.9,930.9 423.2,945.4 423.0,949.5 " stroke="#0b1418" stroke-width="3.50" fill="none" stroke-linecap="round" filter="url(#bl2)"/>
<path d="M428.9,902.7 C430.1,902.1 433.6,900.5 436.0,899.0 C438.4,897.5 441.0,896.2 443.5,894.0 C446.0,891.8 448.6,888.5 451.0,886.0 C453.4,883.5 456.9,880.4 458.1,879.3 " stroke="#2c4f5e" stroke-width="5.20" fill="none" stroke-linecap="round" opacity="0.55" filter="url(#bl3)"/><path d="M428.9,902.7 C430.1,902.1 433.6,900.5 436.0,899.0 C438.4,897.5 441.0,896.2 443.5,894.0 C446.0,891.8 448.6,888.5 451.0,886.0 C453.4,883.5 456.9,880.4 458.1,879.3 " stroke="#0b1418" stroke-width="2.50" fill="none" stroke-linecap="round" filter="url(#bl2)"/>
<ellipse cx="452" cy="887" rx="9" ry="7" fill="#2c4f5e" filter="url(#bl3)"/>
<ellipse cx="455.2" cy="885.2" rx="4.5" ry="4.5" fill="#0b1418" filter="url(#bl)"/>
<ellipse cx="447" cy="891" rx="4" ry="3" fill="#0b1418" filter="url(#bl)"/>
<path d="M436.2,880.8 C437.2,880.6 440.1,879.8 442.0,879.5 C443.9,879.2 446.9,879.3 447.9,879.3 " stroke="#2c4f5e" stroke-width="1.50" fill="none" stroke-linecap="round" filter="url(#bl2)"/>
<ellipse cx="438.4" cy="932.7" rx="1.0" ry="1.0" fill="#0b1418" filter="url(#bl)"/>
<text x="430.30" y="820.00" font-size="12.5" text-anchor="middle" font-weight="normal" font-style="normal" fill="#000" >3</text>
<text x="430.30" y="973.40" font-size="13" text-anchor="middle" font-weight="normal" font-style="normal" fill="#000" >39</text>
<rect x="501.8" y="822.8" width="77.2" height="134.80000000000007" fill="#70a4d1"/>
<path d="M535.9,845.0 C538.8,844.0 542.8,844.0 546.2,844.2 C549.6,844.4 553.5,845.4 556.4,846.4 C559.3,847.4 562.1,848.3 563.7,850.1 C565.3,851.9 565.4,854.7 565.9,857.4 C566.4,860.1 566.4,863.3 566.6,866.2 C566.9,869.1 567.6,871.7 567.4,874.9 C567.2,878.1 566.1,881.8 565.2,885.2 C564.4,888.6 563.8,892.0 562.3,895.4 C560.8,898.8 557.9,902.4 556.4,905.6 C554.9,908.8 555.0,911.7 553.5,914.4 C552.0,917.1 549.6,919.3 547.6,921.7 C545.6,924.1 543.2,927.3 541.8,929.0 C540.3,930.7 539.9,932.5 538.9,932.0 C537.9,931.5 537.1,928.6 535.9,926.1 C534.7,923.6 533.0,920.2 531.5,917.3 C530.0,914.4 528.7,911.3 527.2,908.6 C525.8,905.9 523.8,904.2 522.8,901.3 C521.8,898.4 521.8,894.7 521.3,891.0 C520.8,887.3 520.1,882.7 519.9,879.3 C519.7,875.9 519.7,873.5 519.9,870.6 C520.1,867.7 520.3,864.5 521.3,861.8 C522.3,859.1 524.5,856.5 525.7,854.5 C526.9,852.5 526.9,851.7 528.6,850.1 C530.3,848.5 533.0,846.0 535.9,845.0 Z" fill="#6096b3" filter="url(#bl4)"/>
<ellipse cx="546" cy="855" rx="21" ry="11" fill="#2c4f5e" filter="url(#bl3)"/>
<path d="M527.5,851.0 C528.2,849.2 530.2,847.0 532.0,846.0 C533.8,845.0 536.3,844.5 538.0,845.0 C539.7,845.5 541.5,847.2 542.0,849.0 C542.5,850.8 541.4,853.7 541.0,856.0 C540.6,858.3 540.3,861.2 539.5,863.0 C538.7,864.8 537.4,866.5 536.0,866.5 C534.6,866.5 532.3,864.6 531.0,863.0 C529.7,861.4 528.6,859.0 528.0,857.0 C527.4,855.0 526.8,852.8 527.5,851.0 Z" fill="#0b1418" filter="url(#bl)"/>
<path d="M550.0,849.0 C550.5,847.2 553.2,846.8 555.0,846.5 C556.8,846.2 559.2,846.6 561.0,847.5 C562.8,848.4 564.7,850.2 565.5,852.0 C566.3,853.8 566.4,856.5 566.0,858.0 C565.6,859.5 564.5,860.7 563.0,861.0 C561.5,861.3 558.8,860.7 557.0,860.0 C555.2,859.3 553.2,858.8 552.0,857.0 C550.8,855.2 549.5,850.8 550.0,849.0 Z" fill="#0b1418" filter="url(#bl)"/>
<ellipse cx="546" cy="848" rx="4.5" ry="4" fill="#0b1418" filter="url(#bl)"/>
<path d="M544.7,851.5 C544.7,855.2 545.0,866.9 544.7,873.5 C544.5,880.1 543.7,885.8 543.2,891.0 C542.7,896.2 542.0,900.6 541.5,905.0 C541.0,909.4 540.7,913.0 540.3,917.3 C539.9,921.5 539.1,928.3 538.9,930.5 " stroke="#2c4f5e" stroke-width="6.76" fill="none" stroke-linecap="round" opacity="0.55" filter="url(#bl3)"/><path d="M544.7,851.5 C544.7,855.2 545.0,866.9 544.7,873.5 C544.5,880.1 543.7,885.8 543.2,891.0 C542.7,896.2 542.0,900.6 541.5,905.0 C541.0,909.4 540.7,913.0 540.3,917.3 C539.9,921.5 539.1,928.3 538.9,930.5 " stroke="#0b1418" stroke-width="3.25" fill="none" stroke-linecap="round" filter="url(#bl2)"/>
<path d="M543.2,885.2 C542.2,884.7 539.0,883.0 537.0,882.0 C535.0,881.0 534.1,880.7 531.5,879.3 C528.9,877.9 523.0,874.5 521.3,873.5 " stroke="#2c4f5e" stroke-width="3.12" fill="none" stroke-linecap="round" opacity="0.55" filter="url(#bl3)"/><path d="M543.2,885.2 C542.2,884.7 539.0,883.0 537.0,882.0 C535.0,881.0 534.1,880.7 531.5,879.3 C528.9,877.9 523.0,874.5 521.3,873.5 " stroke="#0b1418" stroke-width="1.50" fill="none" stroke-linecap="round" filter="url(#bl2)"/>
<path d="M541.8,896.9 C540.8,896.2 537.7,894.2 536.0,893.0 C534.3,891.8 533.5,891.1 531.5,889.6 C529.5,888.1 525.4,884.7 524.2,883.7 " stroke="#2c4f5e" stroke-width="3.12" fill="none" stroke-linecap="round" opacity="0.55" filter="url(#bl3)"/><path d="M541.8,896.9 C540.8,896.2 537.7,894.2 536.0,893.0 C534.3,891.8 533.5,891.1 531.5,889.6 C529.5,888.1 525.4,884.7 524.2,883.7 " stroke="#0b1418" stroke-width="1.50" fill="none" stroke-linecap="round" filter="url(#bl2)"/>
<path d="M544.7,873.5 C545.6,873.2 548.0,872.5 550.0,872.0 C552.0,871.5 554.1,872.1 556.4,870.6 C558.7,869.1 562.5,864.4 563.7,863.2 " stroke="#2c4f5e" stroke-width="3.12" fill="none" stroke-linecap="round" opacity="0.55" filter="url(#bl3)"/><path d="M544.7,873.5 C545.6,873.2 548.0,872.5 550.0,872.0 C552.0,871.5 554.1,872.1 556.4,870.6 C558.7,869.1 562.5,864.4 563.7,863.2 " stroke="#0b1418" stroke-width="1.50" fill="none" stroke-linecap="round" filter="url(#bl2)"/>
<ellipse cx="519.9" cy="875" rx="2.6" ry="3.2" fill="#0b1418" filter="url(#bl)"/>
<ellipse cx="527.9" cy="907.1" rx="1.4" ry="1.4" fill="#2c4f5e" filter="url(#bl)"/>
<text x="540.40" y="820.00" font-size="12.5" text-anchor="middle" font-weight="normal" font-style="normal" fill="#000" >3</text>
<text x="540.40" y="973.40" font-size="13" text-anchor="middle" font-weight="normal" font-style="normal" fill="#000" >47</text>
<text x="320.00" y="991.60" font-size="13.4" text-anchor="middle" font-weight="normal" font-style="normal" fill="#000" >Bacterial colonization (% of leaf area)</text>
<path d="M60,1015.4 L580,1000.3 L580,1016.1 L60,1016.1 Z" fill="#221e1f"/>
<line x1="60" y1="1015.6" x2="580" y2="1015.6" stroke="#221e1f" stroke-width="1"/>
</svg></body></html>
